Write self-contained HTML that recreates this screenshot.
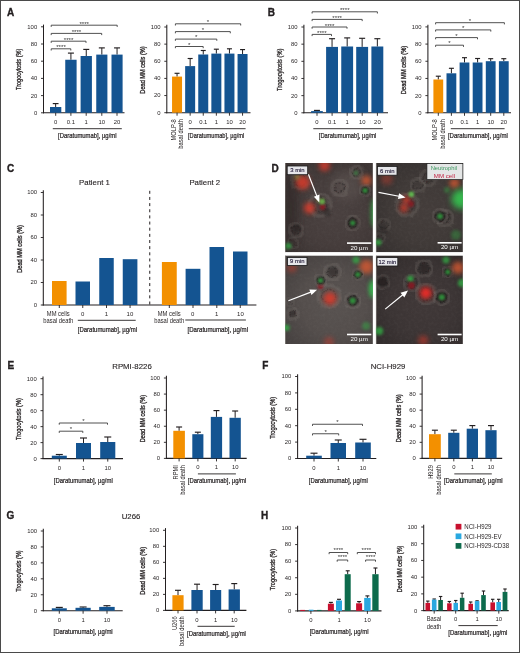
<!DOCTYPE html>
<html><head><meta charset="utf-8"><style>
html,body{margin:0;padding:0;background:#fff;}
svg{display:block;will-change:transform;}
text{font-family:"Liberation Sans", sans-serif;}
</style></head><body>
<svg width="520" height="653" viewBox="0 0 520 653">
<rect x="0" y="0" width="520" height="653" fill="#fff"/>
<defs>
<clipPath id="cp1"><rect x="285.0" y="163.0" width="87.90" height="89.30"/></clipPath>
<clipPath id="cp2"><rect x="375.8" y="163.0" width="87.10" height="89.30"/></clipPath>
<clipPath id="cp3"><rect x="285.0" y="255.4" width="87.90" height="88.60"/></clipPath>
<clipPath id="cp4"><rect x="375.8" y="255.4" width="87.10" height="88.60"/></clipPath>
<filter id="b0_5" x="-100%" y="-100%" width="300%" height="300%"><feGaussianBlur stdDeviation="0.5"/></filter>
<filter id="b0_8" x="-100%" y="-100%" width="300%" height="300%"><feGaussianBlur stdDeviation="0.8"/></filter>
<filter id="b1_0" x="-100%" y="-100%" width="300%" height="300%"><feGaussianBlur stdDeviation="1.0"/></filter>
<filter id="b1_2" x="-100%" y="-100%" width="300%" height="300%"><feGaussianBlur stdDeviation="1.2"/></filter>
<filter id="b1_5" x="-100%" y="-100%" width="300%" height="300%"><feGaussianBlur stdDeviation="1.5"/></filter>
<filter id="b2_0" x="-100%" y="-100%" width="300%" height="300%"><feGaussianBlur stdDeviation="2.0"/></filter>
<filter id="b2_5" x="-100%" y="-100%" width="300%" height="300%"><feGaussianBlur stdDeviation="2.5"/></filter>
<filter id="b3_0" x="-100%" y="-100%" width="300%" height="300%"><feGaussianBlur stdDeviation="3.0"/></filter>
<filter id="b4_0" x="-100%" y="-100%" width="300%" height="300%"><feGaussianBlur stdDeviation="4.0"/></filter>
<filter id="b5_0" x="-100%" y="-100%" width="300%" height="300%"><feGaussianBlur stdDeviation="5.0"/></filter>
<radialGradient id="bgp1" cx="55%" cy="55%" r="65%"><stop offset="0" stop-color="#4a4140"/><stop offset="0.55" stop-color="#463d3c"/><stop offset="1" stop-color="#3c3433"/></radialGradient>
<radialGradient id="bgp2" cx="55%" cy="55%" r="65%"><stop offset="0" stop-color="#443d3b"/><stop offset="0.55" stop-color="#403a38"/><stop offset="1" stop-color="#363130"/></radialGradient>
<radialGradient id="bgp3" cx="55%" cy="55%" r="65%"><stop offset="0" stop-color="#595351"/><stop offset="0.55" stop-color="#544e4c"/><stop offset="1" stop-color="#474241"/></radialGradient>
<radialGradient id="bgp4" cx="55%" cy="55%" r="65%"><stop offset="0" stop-color="#403838"/><stop offset="0.55" stop-color="#3c3535"/><stop offset="1" stop-color="#332d2d"/></radialGradient>
<filter id="noise" x="0" y="0" width="100%" height="100%"><feTurbulence type="fractalNoise" baseFrequency="0.35" numOctaves="2" seed="3"/><feColorMatrix type="matrix" values="0 0 0 0 0.5  0 0 0 0 0.48  0 0 0 0 0.46  0 0 0 1.2 -0.45"/></filter>
<filter id="wob" x="-5%" y="-5%" width="110%" height="110%"><feTurbulence type="fractalNoise" baseFrequency="0.18" numOctaves="2" seed="7" result="t"/><feDisplacementMap in="SourceGraphic" in2="t" scale="4.5" xChannelSelector="R" yChannelSelector="G"/></filter>
</defs>
<g clip-path="url(#cp1)">
<rect x="285.0" y="163.0" width="87.90" height="89.30" fill="url(#bgp1)"/>
<rect x="285.0" y="163.0" width="87.90" height="89.30" filter="url(#noise)" opacity="0.08"/>
<rect x="285.0" y="163.0" width="1.0" height="89.30" fill="#8a8682" opacity="0.7"/>
<ellipse cx="291" cy="210" rx="7" ry="40" fill="#2e2826" opacity="0.6" filter="url(#b4_0)"/>
<circle cx="348" cy="185" r="16" fill="#6a625e" opacity="0.35" filter="url(#b5_0)"/>
<circle cx="300" cy="172" r="10" fill="#6a625e" opacity="0.25" filter="url(#b4_0)"/>
<g filter="url(#wob)"><circle cx="320" cy="205" r="11" fill="none" stroke="#8e8882" stroke-width="2.5" opacity="0.3" filter="url(#b1_0)"/><circle cx="320" cy="205" r="6.60" fill="none" stroke="#1e1a1a" stroke-width="1.2" stroke-dasharray="2,1.5" opacity="0.33" filter="url(#b0_5)"/></g>
<g filter="url(#wob)"><circle cx="339.6" cy="187.8" r="8" fill="none" stroke="#8e8882" stroke-width="2.0" opacity="0.35" filter="url(#b1_0)"/><circle cx="339.6" cy="187.8" r="4.80" fill="none" stroke="#1e1a1a" stroke-width="1.2" stroke-dasharray="2,1.5" opacity="0.39" filter="url(#b0_5)"/></g>
<g filter="url(#wob)"><circle cx="356.2" cy="172.6" r="6.5" fill="none" stroke="#8e8882" stroke-width="2.0" opacity="0.35" filter="url(#b1_0)"/><circle cx="356.2" cy="172.6" r="3.90" fill="none" stroke="#1e1a1a" stroke-width="1.2" stroke-dasharray="2,1.5" opacity="0.39" filter="url(#b0_5)"/></g>
<g filter="url(#wob)"><circle cx="296" cy="230" r="7" fill="none" stroke="#8e8882" stroke-width="2.0" opacity="0.3" filter="url(#b1_0)"/><circle cx="296" cy="230" r="4.20" fill="none" stroke="#1e1a1a" stroke-width="1.2" stroke-dasharray="2,1.5" opacity="0.33" filter="url(#b0_5)"/></g>
<g filter="url(#wob)"><circle cx="293" cy="243" r="5" fill="none" stroke="#8e8882" stroke-width="2.0" opacity="0.25" filter="url(#b1_0)"/><circle cx="293" cy="243" r="3.00" fill="none" stroke="#1e1a1a" stroke-width="1.2" stroke-dasharray="2,1.5" opacity="0.28" filter="url(#b0_5)"/></g>
<g filter="url(#wob)"><circle cx="300" cy="180" r="9" fill="none" stroke="#8e8882" stroke-width="2.0" opacity="0.25" filter="url(#b1_0)"/><circle cx="300" cy="180" r="5.40" fill="none" stroke="#1e1a1a" stroke-width="1.2" stroke-dasharray="2,1.5" opacity="0.28" filter="url(#b0_5)"/></g>
<circle cx="297" cy="228" r="4" fill="#221e1e" opacity="0.45" filter="url(#b1_2)"/>
<circle cx="327" cy="212" r="4" fill="#221e1e" opacity="0.5" filter="url(#b1_2)"/>
<circle cx="302.8" cy="182.5" r="7" fill="#d83a2c" opacity="0.85" filter="url(#b2_5)"/>
<circle cx="297" cy="177" r="3" fill="#a8a040" opacity="0.45" filter="url(#b1_5)"/>
<circle cx="324.5" cy="165.5" r="5.5" fill="#d83a2c" opacity="0.8" filter="url(#b2_5)"/>
<circle cx="366.5" cy="180.5" r="5" fill="#d85a30" opacity="0.8" filter="url(#b2_5)"/>
<circle cx="309.5" cy="208.0" r="5.5" fill="#d83a2c" opacity="0.9" filter="url(#b2_5)"/>
<circle cx="322.5" cy="207.0" r="3" fill="#8a1820" opacity="0.85" filter="url(#b1_0)"/>
<circle cx="322.0" cy="201.5" r="3.0" fill="#6cb848" opacity="0.85" filter="url(#b1_2)"/>
<circle cx="318" cy="200" r="2.5" fill="#a0a050" opacity="0.35" filter="url(#b1_2)"/>
<g filter="url(#wob)"><circle cx="352.7" cy="222.9" r="6.8999999999999995" fill="none" stroke="#8e8882" stroke-width="1.8" opacity="0.45" filter="url(#b1_0)"/><circle cx="352.7" cy="222.9" r="4.14" fill="none" stroke="#1e1a1a" stroke-width="1.2" stroke-dasharray="2,1.5" opacity="0.50" filter="url(#b0_5)"/></g>
<circle cx="352.7" cy="222.9" r="5.699999999999999" fill="#221e1e" opacity="0.6" filter="url(#b0_8)"/>
<circle cx="352.7" cy="222.9" r="2.5" fill="#2f9a3c" opacity="0.85" filter="url(#b1_0)"/>
<g filter="url(#wob)"><circle cx="365.1" cy="190.5" r="5.175" fill="none" stroke="#8e8882" stroke-width="1.8" opacity="0.45" filter="url(#b1_0)"/><circle cx="365.1" cy="190.5" r="3.10" fill="none" stroke="#1e1a1a" stroke-width="1.2" stroke-dasharray="2,1.5" opacity="0.50" filter="url(#b0_5)"/></g>
<circle cx="365.1" cy="190.5" r="4.2749999999999995" fill="#221e1e" opacity="0.6" filter="url(#b0_8)"/>
<circle cx="365.1" cy="190.5" r="2.5" fill="#2f9a3c" opacity="0.85" filter="url(#b1_0)"/>
<ellipse cx="373.5" cy="213" rx="2.5" ry="14" fill="#30c048" opacity="0.7" filter="url(#b2_0)"/>
<circle cx="288.4" cy="246" r="3" fill="#30b445" opacity="0.75" filter="url(#b1_5)"/>
<circle cx="356" cy="173" r="2.0" fill="#30b445" opacity="0.6" filter="url(#b1_5)"/>
</g>
<line x1="308.4" y1="174.3" x2="316.88" y2="196.15" stroke="#fff" stroke-width="1.2"/>
<path d="M319.30,202.40 L313.90,196.77 L319.49,194.60 z" fill="#fff"/>
<rect x="287.2" y="166.0" width="20.50" height="8.70" fill="#e6e6ea" stroke="#1a1a1a" stroke-width="0.8"/>
<text x="297.45" y="172.40" font-size="5.9" text-anchor="middle" fill="#2b2540" stroke="#2b2540" stroke-width="0.15" font-family='"Liberation Sans", sans-serif'>3 min</text>
<rect x="347.0" y="242.29999999999998" width="24.30" height="1.6" fill="#fff"/>
<text x="359.15" y="249.70" font-size="6.2" text-anchor="middle" fill="#fff" font-family='"Liberation Sans", sans-serif'>20 &#181;m</text>
<g clip-path="url(#cp2)">
<rect x="375.8" y="163.0" width="87.10" height="89.30" fill="url(#bgp2)"/>
<rect x="375.8" y="163.0" width="87.10" height="89.30" filter="url(#noise)" opacity="0.08"/>
<rect x="375.8" y="163.0" width="1.0" height="89.30" fill="#8a8682" opacity="0.7"/>
<g filter="url(#wob)"><circle cx="407" cy="205" r="11" fill="none" stroke="#8e8882" stroke-width="2.5" opacity="0.3" filter="url(#b1_0)"/><circle cx="407" cy="205" r="6.60" fill="none" stroke="#1e1a1a" stroke-width="1.2" stroke-dasharray="2,1.5" opacity="0.33" filter="url(#b0_5)"/></g>
<g filter="url(#wob)"><circle cx="418" cy="185" r="7" fill="none" stroke="#8e8882" stroke-width="2.0" opacity="0.3" filter="url(#b1_0)"/><circle cx="418" cy="185" r="4.20" fill="none" stroke="#1e1a1a" stroke-width="1.2" stroke-dasharray="2,1.5" opacity="0.33" filter="url(#b0_5)"/></g>
<g filter="url(#wob)"><circle cx="428" cy="178" r="8" fill="none" stroke="#8e8882" stroke-width="2.0" opacity="0.3" filter="url(#b1_0)"/><circle cx="428" cy="178" r="4.80" fill="none" stroke="#1e1a1a" stroke-width="1.2" stroke-dasharray="2,1.5" opacity="0.33" filter="url(#b0_5)"/></g>
<g filter="url(#wob)"><circle cx="384" cy="225" r="6" fill="none" stroke="#8e8882" stroke-width="2.0" opacity="0.25" filter="url(#b1_0)"/><circle cx="384" cy="225" r="3.60" fill="none" stroke="#1e1a1a" stroke-width="1.2" stroke-dasharray="2,1.5" opacity="0.28" filter="url(#b0_5)"/></g>
<g filter="url(#wob)"><circle cx="380" cy="238" r="5" fill="none" stroke="#8e8882" stroke-width="2.0" opacity="0.25" filter="url(#b1_0)"/><circle cx="380" cy="238" r="3.00" fill="none" stroke="#1e1a1a" stroke-width="1.2" stroke-dasharray="2,1.5" opacity="0.28" filter="url(#b0_5)"/></g>
<g filter="url(#wob)"><circle cx="445" cy="218" r="8" fill="none" stroke="#8e8882" stroke-width="2.0" opacity="0.35" filter="url(#b1_0)"/><circle cx="445" cy="218" r="4.80" fill="none" stroke="#1e1a1a" stroke-width="1.2" stroke-dasharray="2,1.5" opacity="0.39" filter="url(#b0_5)"/></g>
<circle cx="383" cy="230" r="4" fill="#221e1e" opacity="0.4" filter="url(#b1_2)"/>
<circle cx="386.8" cy="179" r="6" fill="#c04030" opacity="0.45" filter="url(#b2_5)"/>
<circle cx="406.5" cy="200" r="4" fill="#d83a2c" opacity="0.85" filter="url(#b2_5)"/>
<circle cx="404" cy="208" r="4" fill="#d83a2c" opacity="0.85" filter="url(#b2_5)"/>
<circle cx="411" cy="204" r="3" fill="#8a1820" opacity="0.8" filter="url(#b1_0)"/>
<circle cx="454.5" cy="183.3" r="5" fill="#d85a30" opacity="0.8" filter="url(#b2_5)"/>
<circle cx="411.4" cy="194.3" r="2.8" fill="#60c050" opacity="0.9" filter="url(#b1_2)"/>
<circle cx="461.5" cy="199" r="10" fill="#35c450" opacity="0.9" filter="url(#b3_0)"/>
<g filter="url(#wob)"><circle cx="440.1" cy="216.3" r="6.8999999999999995" fill="none" stroke="#8e8882" stroke-width="1.8" opacity="0.45" filter="url(#b1_0)"/><circle cx="440.1" cy="216.3" r="4.14" fill="none" stroke="#1e1a1a" stroke-width="1.2" stroke-dasharray="2,1.5" opacity="0.50" filter="url(#b0_5)"/></g>
<circle cx="440.1" cy="216.3" r="5.699999999999999" fill="#221e1e" opacity="0.6" filter="url(#b0_8)"/>
<circle cx="440.1" cy="216.3" r="2.8" fill="#2f9a3c" opacity="0.85" filter="url(#b1_0)"/>
<circle cx="378.4" cy="242.5" r="3" fill="#30b445" opacity="0.8" filter="url(#b1_5)"/>
<circle cx="456" cy="235" r="5" fill="#30b445" opacity="0.35" filter="url(#b1_5)"/>
<circle cx="447" cy="190" r="3" fill="#30b445" opacity="0.4" filter="url(#b1_5)"/>
</g>
<line x1="378.5" y1="192.3" x2="399.02" y2="196.24" stroke="#fff" stroke-width="1.2"/>
<path d="M405.60,197.50 L397.96,199.09 L399.09,193.20 z" fill="#fff"/>
<rect x="377.5" y="166.4" width="19.50" height="8.80" fill="#e6e6ea" stroke="#1a1a1a" stroke-width="0.8"/>
<text x="387.25" y="172.90" font-size="5.9" text-anchor="middle" fill="#2b2540" stroke="#2b2540" stroke-width="0.15" font-family='"Liberation Sans", sans-serif'>6 min</text>
<rect x="426.9" y="163.4" width="36.0" height="16.2" fill="#e4e6e6" stroke="#1a1a1a" stroke-width="0.7"/>
<text x="443.9" y="170.2" font-size="6.2" text-anchor="middle" fill="#3f9a62" font-family='"Liberation Sans", sans-serif' textLength="26.5" lengthAdjust="spacingAndGlyphs">Neutrophil</text>
<text x="444.4" y="178.0" font-size="6.2" text-anchor="middle" fill="#c01c3c" font-family='"Liberation Sans", sans-serif' textLength="21.2" lengthAdjust="spacingAndGlyphs">MM cell</text>
<rect x="437.6" y="242.0" width="24.00" height="1.6" fill="#fff"/>
<text x="449.60" y="249.40" font-size="6.2" text-anchor="middle" fill="#fff" font-family='"Liberation Sans", sans-serif'>20 &#181;m</text>
<g clip-path="url(#cp3)">
<rect x="285.0" y="255.4" width="87.90" height="88.60" fill="url(#bgp3)"/>
<rect x="285.0" y="255.4" width="87.90" height="88.60" filter="url(#noise)" opacity="0.08"/>
<rect x="285.0" y="255.4" width="1.0" height="88.60" fill="#8a8682" opacity="0.7"/>
<g filter="url(#wob)"><circle cx="332.4" cy="272" r="8" fill="none" stroke="#8e8882" stroke-width="2.0" opacity="0.35" filter="url(#b1_0)"/><circle cx="332.4" cy="272" r="4.80" fill="none" stroke="#1e1a1a" stroke-width="1.2" stroke-dasharray="2,1.5" opacity="0.39" filter="url(#b0_5)"/></g>
<g filter="url(#wob)"><circle cx="329" cy="296" r="11" fill="none" stroke="#8e8882" stroke-width="2.5" opacity="0.3" filter="url(#b1_0)"/><circle cx="329" cy="296" r="6.60" fill="none" stroke="#1e1a1a" stroke-width="1.2" stroke-dasharray="2,1.5" opacity="0.33" filter="url(#b0_5)"/></g>
<g filter="url(#wob)"><circle cx="293" cy="314" r="5.5" fill="none" stroke="#8e8882" stroke-width="2.0" opacity="0.35" filter="url(#b1_0)"/><circle cx="293" cy="314" r="3.30" fill="none" stroke="#1e1a1a" stroke-width="1.2" stroke-dasharray="2,1.5" opacity="0.39" filter="url(#b0_5)"/></g>
<g filter="url(#wob)"><circle cx="290" cy="302" r="4" fill="none" stroke="#8e8882" stroke-width="2.0" opacity="0.2" filter="url(#b1_0)"/><circle cx="290" cy="302" r="2.40" fill="none" stroke="#1e1a1a" stroke-width="1.2" stroke-dasharray="2,1.5" opacity="0.22" filter="url(#b0_5)"/></g>
<circle cx="333" cy="272" r="5" fill="#221e1e" opacity="0.45" filter="url(#b1_2)"/>
<circle cx="292.5" cy="313.5" r="3" fill="#221e1e" opacity="0.5" filter="url(#b1_2)"/>
<circle cx="291.8" cy="267.7" r="5" fill="#d83a2c" opacity="0.45" filter="url(#b2_5)"/>
<circle cx="330" cy="298.5" r="6.5" fill="#d83a2c" opacity="0.9" filter="url(#b2_5)"/>
<circle cx="366.5" cy="266.8" r="7" fill="#d85a30" opacity="0.8" filter="url(#b2_5)"/>
<circle cx="320.5" cy="286.3" r="3" fill="#8a1820" opacity="0.85" filter="url(#b1_0)"/>
<circle cx="329" cy="342" r="5" fill="#d83a2c" opacity="0.45" filter="url(#b2_5)"/>
<g filter="url(#wob)"><circle cx="320.5" cy="280.4" r="5.52" fill="none" stroke="#8e8882" stroke-width="1.8" opacity="0.45" filter="url(#b1_0)"/><circle cx="320.5" cy="280.4" r="3.31" fill="none" stroke="#1e1a1a" stroke-width="1.2" stroke-dasharray="2,1.5" opacity="0.50" filter="url(#b0_5)"/></g>
<circle cx="320.5" cy="280.4" r="4.56" fill="#221e1e" opacity="0.6" filter="url(#b0_8)"/>
<circle cx="320.5" cy="280.4" r="2.5" fill="#2f9a3c" opacity="0.85" filter="url(#b1_0)"/>
<g filter="url(#wob)"><circle cx="352.7" cy="300.7" r="7.13" fill="none" stroke="#8e8882" stroke-width="1.8" opacity="0.45" filter="url(#b1_0)"/><circle cx="352.7" cy="300.7" r="4.28" fill="none" stroke="#1e1a1a" stroke-width="1.2" stroke-dasharray="2,1.5" opacity="0.50" filter="url(#b0_5)"/></g>
<circle cx="352.7" cy="300.7" r="5.89" fill="#221e1e" opacity="0.6" filter="url(#b0_8)"/>
<circle cx="352.7" cy="300.7" r="3.0" fill="#2f9a3c" opacity="0.85" filter="url(#b1_0)"/>
<circle cx="356" cy="260" r="3.5" fill="#30b445" opacity="0.7" filter="url(#b1_5)"/>
<g filter="url(#wob)"><circle cx="357.8" cy="274.5" r="5.175" fill="none" stroke="#8e8882" stroke-width="1.8" opacity="0.45" filter="url(#b1_0)"/><circle cx="357.8" cy="274.5" r="3.10" fill="none" stroke="#1e1a1a" stroke-width="1.2" stroke-dasharray="2,1.5" opacity="0.50" filter="url(#b0_5)"/></g>
<circle cx="357.8" cy="274.5" r="4.2749999999999995" fill="#221e1e" opacity="0.6" filter="url(#b0_8)"/>
<circle cx="357.8" cy="274.5" r="2.5" fill="#2f9a3c" opacity="0.85" filter="url(#b1_0)"/>
<ellipse cx="372.5" cy="289" rx="3.5" ry="9" fill="#35c450" opacity="0.9" filter="url(#b2_0)"/>
<circle cx="286.7" cy="327.8" r="3" fill="#30b445" opacity="0.8" filter="url(#b1_5)"/>
<circle cx="366.2" cy="326" r="4" fill="#30b445" opacity="0.45" filter="url(#b1_5)"/>
</g>
<line x1="288.4" y1="300.7" x2="310.84" y2="292.10" stroke="#fff" stroke-width="1.2"/>
<path d="M317.10,289.70 L311.45,295.08 L309.30,289.48 z" fill="#fff"/>
<rect x="287.5" y="257.5" width="19.50" height="8.00" fill="#e6e6ea" stroke="#1a1a1a" stroke-width="0.8"/>
<text x="297.25" y="263.20" font-size="5.9" text-anchor="middle" fill="#2b2540" stroke="#2b2540" stroke-width="0.15" font-family='"Liberation Sans", sans-serif'>9 min</text>
<rect x="347.0" y="333.7" width="24.30" height="1.6" fill="#fff"/>
<text x="359.15" y="341.10" font-size="6.2" text-anchor="middle" fill="#fff" font-family='"Liberation Sans", sans-serif'>20 &#181;m</text>
<g clip-path="url(#cp4)">
<rect x="375.8" y="255.4" width="87.10" height="88.60" fill="url(#bgp4)"/>
<rect x="375.8" y="255.4" width="87.10" height="88.60" filter="url(#noise)" opacity="0.08"/>
<rect x="375.8" y="255.4" width="1.0" height="88.60" fill="#8a8682" opacity="0.7"/>
<g filter="url(#wob)"><circle cx="382.6" cy="282" r="6.5" fill="none" stroke="#8e8882" stroke-width="2.0" opacity="0.35" filter="url(#b1_0)"/><circle cx="382.6" cy="282" r="3.90" fill="none" stroke="#1e1a1a" stroke-width="1.2" stroke-dasharray="2,1.5" opacity="0.39" filter="url(#b0_5)"/></g>
<circle cx="382.6" cy="282" r="5.5" fill="#221e1e" opacity="0.65" filter="url(#b1_0)"/>
<g filter="url(#wob)"><circle cx="424" cy="268.5" r="8" fill="none" stroke="#8e8882" stroke-width="2.0" opacity="0.35" filter="url(#b1_0)"/><circle cx="424" cy="268.5" r="4.80" fill="none" stroke="#1e1a1a" stroke-width="1.2" stroke-dasharray="2,1.5" opacity="0.39" filter="url(#b0_5)"/></g>
<circle cx="424" cy="268.5" r="5" fill="#221e1e" opacity="0.45" filter="url(#b1_2)"/>
<g filter="url(#wob)"><circle cx="412" cy="283" r="8" fill="none" stroke="#8e8882" stroke-width="2.0" opacity="0.3" filter="url(#b1_0)"/><circle cx="412" cy="283" r="4.80" fill="none" stroke="#1e1a1a" stroke-width="1.2" stroke-dasharray="2,1.5" opacity="0.33" filter="url(#b0_5)"/></g>
<g filter="url(#wob)"><circle cx="426" cy="294" r="10" fill="none" stroke="#8e8882" stroke-width="2.5" opacity="0.3" filter="url(#b1_0)"/><circle cx="426" cy="294" r="6.00" fill="none" stroke="#1e1a1a" stroke-width="1.2" stroke-dasharray="2,1.5" opacity="0.33" filter="url(#b0_5)"/></g>
<circle cx="410.5" cy="278.7" r="3" fill="#30b445" opacity="0.85" filter="url(#b1_5)"/>
<circle cx="411.4" cy="285.5" r="3.5" fill="#8a1820" opacity="0.85" filter="url(#b1_0)"/>
<circle cx="425.8" cy="293" r="6.0" fill="#ee2a28" opacity="0.95" filter="url(#b2_5)"/>
<g filter="url(#wob)"><circle cx="441.8" cy="297.3" r="7.13" fill="none" stroke="#8e8882" stroke-width="1.8" opacity="0.45" filter="url(#b1_0)"/><circle cx="441.8" cy="297.3" r="4.28" fill="none" stroke="#1e1a1a" stroke-width="1.2" stroke-dasharray="2,1.5" opacity="0.50" filter="url(#b0_5)"/></g>
<circle cx="441.8" cy="297.3" r="5.89" fill="#221e1e" opacity="0.6" filter="url(#b0_8)"/>
<circle cx="441.8" cy="297.3" r="3.0" fill="#2f9a3c" opacity="0.85" filter="url(#b1_0)"/>
<circle cx="446" cy="260" r="3.5" fill="#30b445" opacity="0.7" filter="url(#b1_5)"/>
<g filter="url(#wob)"><circle cx="447.8" cy="272" r="5.175" fill="none" stroke="#8e8882" stroke-width="1.8" opacity="0.45" filter="url(#b1_0)"/><circle cx="447.8" cy="272" r="3.10" fill="none" stroke="#1e1a1a" stroke-width="1.2" stroke-dasharray="2,1.5" opacity="0.50" filter="url(#b0_5)"/></g>
<circle cx="447.8" cy="272" r="4.2749999999999995" fill="#221e1e" opacity="0.6" filter="url(#b0_8)"/>
<circle cx="447.8" cy="272" r="2.5" fill="#2f9a3c" opacity="0.85" filter="url(#b1_0)"/>
<circle cx="458" cy="267.7" r="6" fill="#d85a30" opacity="0.8" filter="url(#b2_5)"/>
<circle cx="462" cy="283" r="4" fill="#30b445" opacity="0.75" filter="url(#b1_5)"/>
<circle cx="379.2" cy="331.1" r="4" fill="#30b445" opacity="0.75" filter="url(#b1_5)"/>
<circle cx="423.2" cy="340.5" r="5" fill="#d83a2c" opacity="0.55" filter="url(#b2_5)"/>
</g>
<line x1="385.2" y1="309.1" x2="402.81" y2="294.74" stroke="#fff" stroke-width="1.2"/>
<path d="M408.00,290.50 L404.32,297.38 L400.52,292.73 z" fill="#fff"/>
<rect x="377.0" y="257.5" width="20.80" height="8.50" fill="#e6e6ea" stroke="#1a1a1a" stroke-width="0.8"/>
<text x="387.40" y="263.70" font-size="5.9" text-anchor="middle" fill="#2b2540" stroke="#2b2540" stroke-width="0.15" font-family='"Liberation Sans", sans-serif'>12 min</text>
<rect x="437.6" y="333.7" width="24.00" height="1.6" fill="#fff"/>
<text x="449.60" y="341.10" font-size="6.2" text-anchor="middle" fill="#fff" font-family='"Liberation Sans", sans-serif'>20 &#181;m</text>
<text x="271.4" y="171.9" font-size="10" font-weight="bold" fill="#231f20" stroke="#231f20" stroke-width="0.35" font-family='"Liberation Sans", sans-serif'>D</text>
<text x="7.00" y="15.90" font-size="10" text-anchor="start" fill="#231f20" font-weight="bold" stroke="#231f20" stroke-width="0.35">A</text>
<line x1="43.50" y1="24.60" x2="43.50" y2="113.30" stroke="#231f20" stroke-width="1.05"/>
<line x1="43.00" y1="112.80" x2="124.50" y2="112.80" stroke="#231f20" stroke-width="1.1"/>
<line x1="41.00" y1="112.80" x2="43.50" y2="112.80" stroke="#231f20" stroke-width="0.9"/>
<text x="37.20" y="114.70" font-size="5.9" text-anchor="end" fill="#231f20" font-weight="normal">0</text>
<line x1="41.00" y1="95.60" x2="43.50" y2="95.60" stroke="#231f20" stroke-width="0.9"/>
<text x="37.20" y="97.50" font-size="5.9" text-anchor="end" fill="#231f20" font-weight="normal">20</text>
<line x1="41.00" y1="78.40" x2="43.50" y2="78.40" stroke="#231f20" stroke-width="0.9"/>
<text x="37.20" y="80.30" font-size="5.9" text-anchor="end" fill="#231f20" font-weight="normal">40</text>
<line x1="41.00" y1="61.20" x2="43.50" y2="61.20" stroke="#231f20" stroke-width="0.9"/>
<text x="37.20" y="63.10" font-size="5.9" text-anchor="end" fill="#231f20" font-weight="normal">60</text>
<line x1="41.00" y1="44.00" x2="43.50" y2="44.00" stroke="#231f20" stroke-width="0.9"/>
<text x="37.20" y="45.90" font-size="5.9" text-anchor="end" fill="#231f20" font-weight="normal">80</text>
<line x1="41.00" y1="26.80" x2="43.50" y2="26.80" stroke="#231f20" stroke-width="0.9"/>
<text x="37.20" y="28.70" font-size="5.9" text-anchor="end" fill="#231f20" font-weight="normal">100</text>
<line x1="55.65" y1="103.60" x2="55.65" y2="107.00" stroke="#231f20" stroke-width="1.0"/>
<line x1="52.75" y1="103.60" x2="58.55" y2="103.60" stroke="#231f20" stroke-width="1.15"/>
<rect x="50.00" y="107.00" width="11.30" height="5.80" fill="#145491"/>
<line x1="70.92" y1="53.10" x2="70.92" y2="59.75" stroke="#231f20" stroke-width="1.0"/>
<line x1="67.92" y1="53.10" x2="73.92" y2="53.10" stroke="#231f20" stroke-width="1.15"/>
<rect x="65.25" y="59.75" width="11.35" height="53.05" fill="#145491"/>
<line x1="86.25" y1="49.40" x2="86.25" y2="56.00" stroke="#231f20" stroke-width="1.0"/>
<line x1="83.25" y1="49.40" x2="89.25" y2="49.40" stroke="#231f20" stroke-width="1.15"/>
<rect x="80.60" y="56.00" width="11.30" height="56.80" fill="#145491"/>
<line x1="101.83" y1="47.90" x2="101.83" y2="54.60" stroke="#231f20" stroke-width="1.0"/>
<line x1="98.83" y1="47.90" x2="104.83" y2="47.90" stroke="#231f20" stroke-width="1.15"/>
<rect x="96.25" y="54.60" width="11.15" height="58.20" fill="#145491"/>
<line x1="117.05" y1="47.90" x2="117.05" y2="54.60" stroke="#231f20" stroke-width="1.0"/>
<line x1="114.05" y1="47.90" x2="120.05" y2="47.90" stroke="#231f20" stroke-width="1.15"/>
<rect x="111.50" y="54.60" width="11.10" height="58.20" fill="#145491"/>
<line x1="55.70" y1="112.80" x2="55.70" y2="115.80" stroke="#231f20" stroke-width="0.9"/>
<text x="55.70" y="124.40" font-size="5.9" text-anchor="middle" fill="#231f20" font-weight="normal">0</text>
<line x1="70.90" y1="112.80" x2="70.90" y2="115.80" stroke="#231f20" stroke-width="0.9"/>
<text x="70.90" y="124.40" font-size="5.9" text-anchor="middle" fill="#231f20" font-weight="normal">0.1</text>
<line x1="86.20" y1="112.80" x2="86.20" y2="115.80" stroke="#231f20" stroke-width="0.9"/>
<text x="86.20" y="124.40" font-size="5.9" text-anchor="middle" fill="#231f20" font-weight="normal">1</text>
<line x1="101.80" y1="112.80" x2="101.80" y2="115.80" stroke="#231f20" stroke-width="0.9"/>
<text x="101.80" y="124.40" font-size="5.9" text-anchor="middle" fill="#231f20" font-weight="normal">10</text>
<line x1="117.00" y1="112.80" x2="117.00" y2="115.80" stroke="#231f20" stroke-width="0.9"/>
<text x="117.00" y="124.40" font-size="5.9" text-anchor="middle" fill="#231f20" font-weight="normal">20</text>
<line x1="52.80" y1="128.70" x2="121.80" y2="128.70" stroke="#231f20" stroke-width="0.9"/>
<text x="87.30" y="138.30" font-size="7.0" text-anchor="middle" fill="#231f20" font-weight="normal" textLength="58.40" lengthAdjust="spacingAndGlyphs" stroke="#231f20" stroke-width="0.22">[Daratumumab], &#181;g/ml</text>
<text transform="translate(21.20,69.40) rotate(-90)" font-size="7.0" text-anchor="middle" fill="#231f20" font-weight="normal" textLength="41.30" lengthAdjust="spacingAndGlyphs" stroke="#231f20" stroke-width="0.3">Trogocytosis (%)</text>
<path d="M51.20,26.90 L51.20,25.20 L117.20,25.20 L117.20,26.90" fill="none" stroke="#3d3d3d" stroke-width="0.9"/>
<text x="84.20" y="25.70" font-size="6.2" text-anchor="middle" fill="#333" font-weight="normal">****</text>
<path d="M51.20,35.10 L51.20,33.40 L101.70,33.40 L101.70,35.10" fill="none" stroke="#3d3d3d" stroke-width="0.9"/>
<text x="76.45" y="33.90" font-size="6.2" text-anchor="middle" fill="#333" font-weight="normal">****</text>
<path d="M51.20,42.90 L51.20,41.20 L86.00,41.20 L86.00,42.90" fill="none" stroke="#3d3d3d" stroke-width="0.9"/>
<text x="68.60" y="41.70" font-size="6.2" text-anchor="middle" fill="#333" font-weight="normal">****</text>
<path d="M51.20,50.50 L51.20,48.80 L70.80,48.80 L70.80,50.50" fill="none" stroke="#3d3d3d" stroke-width="0.9"/>
<text x="61.00" y="49.30" font-size="6.2" text-anchor="middle" fill="#333" font-weight="normal">****</text>
<line x1="166.80" y1="24.80" x2="166.80" y2="113.20" stroke="#231f20" stroke-width="1.05"/>
<line x1="166.30" y1="112.70" x2="250.50" y2="112.70" stroke="#231f20" stroke-width="1.1"/>
<line x1="164.30" y1="112.70" x2="166.80" y2="112.70" stroke="#231f20" stroke-width="0.9"/>
<text x="160.50" y="114.60" font-size="5.9" text-anchor="end" fill="#231f20" font-weight="normal">0</text>
<line x1="164.30" y1="95.56" x2="166.80" y2="95.56" stroke="#231f20" stroke-width="0.9"/>
<text x="160.50" y="97.46" font-size="5.9" text-anchor="end" fill="#231f20" font-weight="normal">20</text>
<line x1="164.30" y1="78.42" x2="166.80" y2="78.42" stroke="#231f20" stroke-width="0.9"/>
<text x="160.50" y="80.32" font-size="5.9" text-anchor="end" fill="#231f20" font-weight="normal">40</text>
<line x1="164.30" y1="61.28" x2="166.80" y2="61.28" stroke="#231f20" stroke-width="0.9"/>
<text x="160.50" y="63.18" font-size="5.9" text-anchor="end" fill="#231f20" font-weight="normal">60</text>
<line x1="164.30" y1="44.14" x2="166.80" y2="44.14" stroke="#231f20" stroke-width="0.9"/>
<text x="160.50" y="46.04" font-size="5.9" text-anchor="end" fill="#231f20" font-weight="normal">80</text>
<line x1="164.30" y1="27.00" x2="166.80" y2="27.00" stroke="#231f20" stroke-width="0.9"/>
<text x="160.50" y="28.90" font-size="5.9" text-anchor="end" fill="#231f20" font-weight="normal">100</text>
<line x1="177.05" y1="73.30" x2="177.05" y2="76.60" stroke="#231f20" stroke-width="1.0"/>
<line x1="174.55" y1="73.30" x2="179.55" y2="73.30" stroke="#231f20" stroke-width="1.15"/>
<rect x="172.05" y="76.60" width="10.00" height="36.10" fill="#f39000"/>
<line x1="190.15" y1="58.50" x2="190.15" y2="66.10" stroke="#231f20" stroke-width="1.0"/>
<line x1="187.65" y1="58.50" x2="192.65" y2="58.50" stroke="#231f20" stroke-width="1.15"/>
<rect x="185.15" y="66.10" width="10.00" height="46.60" fill="#145491"/>
<line x1="203.25" y1="50.50" x2="203.25" y2="54.50" stroke="#231f20" stroke-width="1.0"/>
<line x1="200.75" y1="50.50" x2="205.75" y2="50.50" stroke="#231f20" stroke-width="1.15"/>
<rect x="198.25" y="54.50" width="10.00" height="58.20" fill="#145491"/>
<line x1="216.35" y1="49.20" x2="216.35" y2="53.60" stroke="#231f20" stroke-width="1.0"/>
<line x1="213.85" y1="49.20" x2="218.85" y2="49.20" stroke="#231f20" stroke-width="1.15"/>
<rect x="211.35" y="53.60" width="10.00" height="59.10" fill="#145491"/>
<line x1="229.45" y1="48.80" x2="229.45" y2="53.60" stroke="#231f20" stroke-width="1.0"/>
<line x1="226.95" y1="48.80" x2="231.95" y2="48.80" stroke="#231f20" stroke-width="1.15"/>
<rect x="224.45" y="53.60" width="10.00" height="59.10" fill="#145491"/>
<line x1="242.55" y1="49.60" x2="242.55" y2="54.00" stroke="#231f20" stroke-width="1.0"/>
<line x1="240.05" y1="49.60" x2="245.05" y2="49.60" stroke="#231f20" stroke-width="1.15"/>
<rect x="237.55" y="54.00" width="10.00" height="58.70" fill="#145491"/>
<line x1="177.05" y1="112.70" x2="177.05" y2="115.70" stroke="#231f20" stroke-width="0.9"/>
<line x1="190.15" y1="112.70" x2="190.15" y2="115.70" stroke="#231f20" stroke-width="0.9"/>
<text x="190.15" y="124.40" font-size="5.9" text-anchor="middle" fill="#231f20" font-weight="normal">0</text>
<line x1="203.25" y1="112.70" x2="203.25" y2="115.70" stroke="#231f20" stroke-width="0.9"/>
<text x="203.25" y="124.40" font-size="5.9" text-anchor="middle" fill="#231f20" font-weight="normal">0.1</text>
<line x1="216.35" y1="112.70" x2="216.35" y2="115.70" stroke="#231f20" stroke-width="0.9"/>
<text x="216.35" y="124.40" font-size="5.9" text-anchor="middle" fill="#231f20" font-weight="normal">1</text>
<line x1="229.45" y1="112.70" x2="229.45" y2="115.70" stroke="#231f20" stroke-width="0.9"/>
<text x="229.45" y="124.40" font-size="5.9" text-anchor="middle" fill="#231f20" font-weight="normal">10</text>
<line x1="242.55" y1="112.70" x2="242.55" y2="115.70" stroke="#231f20" stroke-width="0.9"/>
<text x="242.55" y="124.40" font-size="5.9" text-anchor="middle" fill="#231f20" font-weight="normal">20</text>
<line x1="188.80" y1="128.70" x2="245.60" y2="128.70" stroke="#231f20" stroke-width="0.9"/>
<text x="216.10" y="137.90" font-size="7.0" text-anchor="middle" fill="#231f20" font-weight="normal" textLength="56.20" lengthAdjust="spacingAndGlyphs" stroke="#231f20" stroke-width="0.22">[Daratumumab], &#181;g/ml</text>
<text transform="translate(176.00,119.20) rotate(-90)" font-size="6.8" text-anchor="end" fill="#231f20" font-weight="normal" textLength="21.27" lengthAdjust="spacingAndGlyphs">MOLP-8</text>
<text transform="translate(183.20,119.20) rotate(-90)" font-size="6.8" text-anchor="end" fill="#231f20" font-weight="normal" textLength="29.53" lengthAdjust="spacingAndGlyphs">basal death</text>
<text transform="translate(145.00,70.00) rotate(-90)" font-size="7.0" text-anchor="middle" fill="#231f20" font-weight="normal" textLength="47.30" lengthAdjust="spacingAndGlyphs" stroke="#231f20" stroke-width="0.3">Dead MM cells (%)</text>
<path d="M175.40,25.50 L175.40,23.80 L240.70,23.80 L240.70,25.50" fill="none" stroke="#3d3d3d" stroke-width="0.9"/>
<text x="208.05" y="24.00" font-size="6.2" text-anchor="middle" fill="#333" font-weight="normal">*</text>
<path d="M175.40,33.30 L175.40,31.60 L230.30,31.60 L230.30,33.30" fill="none" stroke="#3d3d3d" stroke-width="0.9"/>
<text x="202.85" y="31.80" font-size="6.2" text-anchor="middle" fill="#333" font-weight="normal">*</text>
<path d="M175.40,40.80 L175.40,39.10 L216.80,39.10 L216.80,40.80" fill="none" stroke="#3d3d3d" stroke-width="0.9"/>
<text x="196.10" y="39.30" font-size="6.2" text-anchor="middle" fill="#333" font-weight="normal">*</text>
<path d="M175.40,48.20 L175.40,46.50 L203.20,46.50 L203.20,48.20" fill="none" stroke="#3d3d3d" stroke-width="0.9"/>
<text x="189.30" y="46.70" font-size="6.2" text-anchor="middle" fill="#333" font-weight="normal">*</text>
<text x="267.80" y="15.90" font-size="10" text-anchor="start" fill="#231f20" font-weight="bold" stroke="#231f20" stroke-width="0.35">B</text>
<line x1="303.90" y1="24.80" x2="303.90" y2="113.30" stroke="#231f20" stroke-width="1.05"/>
<line x1="303.40" y1="112.80" x2="388.00" y2="112.80" stroke="#231f20" stroke-width="1.1"/>
<line x1="301.40" y1="112.80" x2="303.90" y2="112.80" stroke="#231f20" stroke-width="0.9"/>
<text x="297.60" y="114.70" font-size="5.9" text-anchor="end" fill="#231f20" font-weight="normal">0</text>
<line x1="301.40" y1="95.64" x2="303.90" y2="95.64" stroke="#231f20" stroke-width="0.9"/>
<text x="297.60" y="97.54" font-size="5.9" text-anchor="end" fill="#231f20" font-weight="normal">20</text>
<line x1="301.40" y1="78.48" x2="303.90" y2="78.48" stroke="#231f20" stroke-width="0.9"/>
<text x="297.60" y="80.38" font-size="5.9" text-anchor="end" fill="#231f20" font-weight="normal">40</text>
<line x1="301.40" y1="61.32" x2="303.90" y2="61.32" stroke="#231f20" stroke-width="0.9"/>
<text x="297.60" y="63.22" font-size="5.9" text-anchor="end" fill="#231f20" font-weight="normal">60</text>
<line x1="301.40" y1="44.16" x2="303.90" y2="44.16" stroke="#231f20" stroke-width="0.9"/>
<text x="297.60" y="46.06" font-size="5.9" text-anchor="end" fill="#231f20" font-weight="normal">80</text>
<line x1="301.40" y1="27.00" x2="303.90" y2="27.00" stroke="#231f20" stroke-width="0.9"/>
<text x="297.60" y="28.90" font-size="5.9" text-anchor="end" fill="#231f20" font-weight="normal">100</text>
<line x1="316.95" y1="110.40" x2="316.95" y2="111.10" stroke="#231f20" stroke-width="1.0"/>
<line x1="313.95" y1="110.40" x2="319.95" y2="110.40" stroke="#231f20" stroke-width="1.15"/>
<rect x="311.10" y="111.10" width="11.70" height="1.70" fill="#145491"/>
<line x1="332.05" y1="38.70" x2="332.05" y2="46.90" stroke="#231f20" stroke-width="1.0"/>
<line x1="329.05" y1="38.70" x2="335.05" y2="38.70" stroke="#231f20" stroke-width="1.15"/>
<rect x="326.10" y="46.90" width="11.90" height="65.90" fill="#145491"/>
<line x1="347.18" y1="37.90" x2="347.18" y2="46.50" stroke="#231f20" stroke-width="1.0"/>
<line x1="344.18" y1="37.90" x2="350.18" y2="37.90" stroke="#231f20" stroke-width="1.15"/>
<rect x="341.25" y="46.50" width="11.85" height="66.30" fill="#145491"/>
<line x1="362.15" y1="38.30" x2="362.15" y2="46.90" stroke="#231f20" stroke-width="1.0"/>
<line x1="359.15" y1="38.30" x2="365.15" y2="38.30" stroke="#231f20" stroke-width="1.15"/>
<rect x="356.20" y="46.90" width="11.90" height="65.90" fill="#145491"/>
<line x1="377.35" y1="38.70" x2="377.35" y2="46.50" stroke="#231f20" stroke-width="1.0"/>
<line x1="374.35" y1="38.70" x2="380.35" y2="38.70" stroke="#231f20" stroke-width="1.15"/>
<rect x="371.40" y="46.50" width="11.90" height="66.30" fill="#145491"/>
<line x1="317.00" y1="112.80" x2="317.00" y2="115.80" stroke="#231f20" stroke-width="0.9"/>
<text x="317.00" y="124.40" font-size="5.9" text-anchor="middle" fill="#231f20" font-weight="normal">0</text>
<line x1="332.10" y1="112.80" x2="332.10" y2="115.80" stroke="#231f20" stroke-width="0.9"/>
<text x="332.10" y="124.40" font-size="5.9" text-anchor="middle" fill="#231f20" font-weight="normal">0.1</text>
<line x1="347.20" y1="112.80" x2="347.20" y2="115.80" stroke="#231f20" stroke-width="0.9"/>
<text x="347.20" y="124.40" font-size="5.9" text-anchor="middle" fill="#231f20" font-weight="normal">1</text>
<line x1="362.20" y1="112.80" x2="362.20" y2="115.80" stroke="#231f20" stroke-width="0.9"/>
<text x="362.20" y="124.40" font-size="5.9" text-anchor="middle" fill="#231f20" font-weight="normal">10</text>
<line x1="377.40" y1="112.80" x2="377.40" y2="115.80" stroke="#231f20" stroke-width="0.9"/>
<text x="377.40" y="124.40" font-size="5.9" text-anchor="middle" fill="#231f20" font-weight="normal">20</text>
<line x1="313.30" y1="128.70" x2="382.80" y2="128.70" stroke="#231f20" stroke-width="0.9"/>
<text x="347.60" y="138.00" font-size="7.0" text-anchor="middle" fill="#231f20" font-weight="normal" textLength="57.60" lengthAdjust="spacingAndGlyphs" stroke="#231f20" stroke-width="0.22">[Daratumumab], &#181;g/ml</text>
<text transform="translate(281.50,69.80) rotate(-90)" font-size="7.0" text-anchor="middle" fill="#231f20" font-weight="normal" textLength="42.20" lengthAdjust="spacingAndGlyphs" stroke="#231f20" stroke-width="0.3">Trogocytosis (%)</text>
<path d="M312.10,13.50 L312.10,11.80 L377.40,11.80 L377.40,13.50" fill="none" stroke="#3d3d3d" stroke-width="0.9"/>
<text x="344.75" y="12.30" font-size="6.2" text-anchor="middle" fill="#333" font-weight="normal">****</text>
<path d="M312.10,21.10 L312.10,19.40 L362.20,19.40 L362.20,21.10" fill="none" stroke="#3d3d3d" stroke-width="0.9"/>
<text x="337.15" y="19.90" font-size="6.2" text-anchor="middle" fill="#333" font-weight="normal">****</text>
<path d="M312.10,28.70 L312.10,27.00 L347.00,27.00 L347.00,28.70" fill="none" stroke="#3d3d3d" stroke-width="0.9"/>
<text x="329.55" y="27.50" font-size="6.2" text-anchor="middle" fill="#333" font-weight="normal">****</text>
<path d="M312.10,36.10 L312.10,34.40 L331.50,34.40 L331.50,36.10" fill="none" stroke="#3d3d3d" stroke-width="0.9"/>
<text x="321.80" y="34.90" font-size="6.2" text-anchor="middle" fill="#333" font-weight="normal">****</text>
<line x1="427.90" y1="24.70" x2="427.90" y2="113.30" stroke="#231f20" stroke-width="1.05"/>
<line x1="427.40" y1="112.80" x2="511.00" y2="112.80" stroke="#231f20" stroke-width="1.1"/>
<line x1="425.40" y1="112.80" x2="427.90" y2="112.80" stroke="#231f20" stroke-width="0.9"/>
<text x="421.60" y="114.70" font-size="5.9" text-anchor="end" fill="#231f20" font-weight="normal">0</text>
<line x1="425.40" y1="95.62" x2="427.90" y2="95.62" stroke="#231f20" stroke-width="0.9"/>
<text x="421.60" y="97.52" font-size="5.9" text-anchor="end" fill="#231f20" font-weight="normal">20</text>
<line x1="425.40" y1="78.44" x2="427.90" y2="78.44" stroke="#231f20" stroke-width="0.9"/>
<text x="421.60" y="80.34" font-size="5.9" text-anchor="end" fill="#231f20" font-weight="normal">40</text>
<line x1="425.40" y1="61.26" x2="427.90" y2="61.26" stroke="#231f20" stroke-width="0.9"/>
<text x="421.60" y="63.16" font-size="5.9" text-anchor="end" fill="#231f20" font-weight="normal">60</text>
<line x1="425.40" y1="44.08" x2="427.90" y2="44.08" stroke="#231f20" stroke-width="0.9"/>
<text x="421.60" y="45.98" font-size="5.9" text-anchor="end" fill="#231f20" font-weight="normal">80</text>
<line x1="425.40" y1="26.90" x2="427.90" y2="26.90" stroke="#231f20" stroke-width="0.9"/>
<text x="421.60" y="28.80" font-size="5.9" text-anchor="end" fill="#231f20" font-weight="normal">100</text>
<line x1="438.30" y1="76.20" x2="438.30" y2="79.50" stroke="#231f20" stroke-width="1.0"/>
<line x1="435.80" y1="76.20" x2="440.80" y2="76.20" stroke="#231f20" stroke-width="1.15"/>
<rect x="433.40" y="79.50" width="9.80" height="33.30" fill="#f39000"/>
<line x1="451.40" y1="68.30" x2="451.40" y2="73.30" stroke="#231f20" stroke-width="1.0"/>
<line x1="448.90" y1="68.30" x2="453.90" y2="68.30" stroke="#231f20" stroke-width="1.15"/>
<rect x="446.50" y="73.30" width="9.80" height="39.50" fill="#145491"/>
<line x1="464.50" y1="57.70" x2="464.50" y2="62.50" stroke="#231f20" stroke-width="1.0"/>
<line x1="462.00" y1="57.70" x2="467.00" y2="57.70" stroke="#231f20" stroke-width="1.15"/>
<rect x="459.60" y="62.50" width="9.80" height="50.30" fill="#145491"/>
<line x1="477.60" y1="58.50" x2="477.60" y2="62.50" stroke="#231f20" stroke-width="1.0"/>
<line x1="475.10" y1="58.50" x2="480.10" y2="58.50" stroke="#231f20" stroke-width="1.15"/>
<rect x="472.70" y="62.50" width="9.80" height="50.30" fill="#145491"/>
<line x1="490.70" y1="58.70" x2="490.70" y2="61.20" stroke="#231f20" stroke-width="1.0"/>
<line x1="488.20" y1="58.70" x2="493.20" y2="58.70" stroke="#231f20" stroke-width="1.15"/>
<rect x="485.80" y="61.20" width="9.80" height="51.60" fill="#145491"/>
<line x1="503.80" y1="58.70" x2="503.80" y2="61.20" stroke="#231f20" stroke-width="1.0"/>
<line x1="501.30" y1="58.70" x2="506.30" y2="58.70" stroke="#231f20" stroke-width="1.15"/>
<rect x="498.90" y="61.20" width="9.80" height="51.60" fill="#145491"/>
<line x1="438.30" y1="112.80" x2="438.30" y2="115.80" stroke="#231f20" stroke-width="0.9"/>
<line x1="451.40" y1="112.80" x2="451.40" y2="115.80" stroke="#231f20" stroke-width="0.9"/>
<text x="451.40" y="124.40" font-size="5.9" text-anchor="middle" fill="#231f20" font-weight="normal">0</text>
<line x1="464.50" y1="112.80" x2="464.50" y2="115.80" stroke="#231f20" stroke-width="0.9"/>
<text x="464.50" y="124.40" font-size="5.9" text-anchor="middle" fill="#231f20" font-weight="normal">0.1</text>
<line x1="477.60" y1="112.80" x2="477.60" y2="115.80" stroke="#231f20" stroke-width="0.9"/>
<text x="477.60" y="124.40" font-size="5.9" text-anchor="middle" fill="#231f20" font-weight="normal">1</text>
<line x1="490.70" y1="112.80" x2="490.70" y2="115.80" stroke="#231f20" stroke-width="0.9"/>
<text x="490.70" y="124.40" font-size="5.9" text-anchor="middle" fill="#231f20" font-weight="normal">10</text>
<line x1="503.80" y1="112.80" x2="503.80" y2="115.80" stroke="#231f20" stroke-width="0.9"/>
<text x="503.80" y="124.40" font-size="5.9" text-anchor="middle" fill="#231f20" font-weight="normal">20</text>
<line x1="450.80" y1="128.70" x2="504.60" y2="128.70" stroke="#231f20" stroke-width="0.9"/>
<text x="477.85" y="138.10" font-size="7.0" text-anchor="middle" fill="#231f20" font-weight="normal" textLength="59.90" lengthAdjust="spacingAndGlyphs" stroke="#231f20" stroke-width="0.22">[Daratumumab], &#181;g/ml</text>
<text transform="translate(437.40,119.20) rotate(-90)" font-size="6.8" text-anchor="end" fill="#231f20" font-weight="normal" textLength="21.27" lengthAdjust="spacingAndGlyphs">MOLP-8</text>
<text transform="translate(444.60,119.20) rotate(-90)" font-size="6.8" text-anchor="end" fill="#231f20" font-weight="normal" textLength="29.53" lengthAdjust="spacingAndGlyphs">basal death</text>
<text transform="translate(405.60,70.00) rotate(-90)" font-size="7.0" text-anchor="middle" fill="#231f20" font-weight="normal" textLength="48.30" lengthAdjust="spacingAndGlyphs" stroke="#231f20" stroke-width="0.3">Dead MM cells (%)</text>
<path d="M435.60,24.40 L435.60,22.70 L504.40,22.70 L504.40,24.40" fill="none" stroke="#3d3d3d" stroke-width="0.9"/>
<text x="470.00" y="22.90" font-size="6.2" text-anchor="middle" fill="#333" font-weight="normal">*</text>
<path d="M435.60,31.60 L435.60,29.90 L490.80,29.90 L490.80,31.60" fill="none" stroke="#3d3d3d" stroke-width="0.9"/>
<text x="463.20" y="30.10" font-size="6.2" text-anchor="middle" fill="#333" font-weight="normal">*</text>
<path d="M435.60,39.30 L435.60,37.60 L477.50,37.60 L477.50,39.30" fill="none" stroke="#3d3d3d" stroke-width="0.9"/>
<text x="456.55" y="37.80" font-size="6.2" text-anchor="middle" fill="#333" font-weight="normal">*</text>
<path d="M435.60,46.90 L435.60,45.20 L463.50,45.20 L463.50,46.90" fill="none" stroke="#3d3d3d" stroke-width="0.9"/>
<text x="449.55" y="45.40" font-size="6.2" text-anchor="middle" fill="#333" font-weight="normal">*</text>
<text x="7.00" y="172.10" font-size="10" text-anchor="start" fill="#231f20" font-weight="bold" stroke="#231f20" stroke-width="0.35">C</text>
<line x1="43.30" y1="190.30" x2="43.30" y2="305.50" stroke="#231f20" stroke-width="1.05"/>
<line x1="42.80" y1="305.00" x2="256.40" y2="305.00" stroke="#231f20" stroke-width="1.1"/>
<line x1="40.80" y1="305.00" x2="43.30" y2="305.00" stroke="#231f20" stroke-width="0.9"/>
<text x="37.00" y="306.90" font-size="5.9" text-anchor="end" fill="#231f20" font-weight="normal">0</text>
<line x1="40.80" y1="282.50" x2="43.30" y2="282.50" stroke="#231f20" stroke-width="0.9"/>
<text x="37.00" y="284.40" font-size="5.9" text-anchor="end" fill="#231f20" font-weight="normal">20</text>
<line x1="40.80" y1="260.00" x2="43.30" y2="260.00" stroke="#231f20" stroke-width="0.9"/>
<text x="37.00" y="261.90" font-size="5.9" text-anchor="end" fill="#231f20" font-weight="normal">40</text>
<line x1="40.80" y1="237.50" x2="43.30" y2="237.50" stroke="#231f20" stroke-width="0.9"/>
<text x="37.00" y="239.40" font-size="5.9" text-anchor="end" fill="#231f20" font-weight="normal">60</text>
<line x1="40.80" y1="215.00" x2="43.30" y2="215.00" stroke="#231f20" stroke-width="0.9"/>
<text x="37.00" y="216.90" font-size="5.9" text-anchor="end" fill="#231f20" font-weight="normal">80</text>
<line x1="40.80" y1="192.50" x2="43.30" y2="192.50" stroke="#231f20" stroke-width="0.9"/>
<text x="37.00" y="194.40" font-size="5.9" text-anchor="end" fill="#231f20" font-weight="normal">100</text>
<rect x="52.00" y="281.00" width="14.60" height="24.00" fill="#f39000"/>
<line x1="59.30" y1="305.00" x2="59.30" y2="308.00" stroke="#231f20" stroke-width="0.9"/>
<rect x="75.50" y="281.50" width="14.50" height="23.50" fill="#145491"/>
<line x1="82.75" y1="305.00" x2="82.75" y2="308.00" stroke="#231f20" stroke-width="0.9"/>
<rect x="99.25" y="258.00" width="14.50" height="47.00" fill="#145491"/>
<line x1="106.50" y1="305.00" x2="106.50" y2="308.00" stroke="#231f20" stroke-width="0.9"/>
<rect x="122.75" y="259.20" width="14.65" height="45.80" fill="#145491"/>
<line x1="130.07" y1="305.00" x2="130.07" y2="308.00" stroke="#231f20" stroke-width="0.9"/>
<rect x="161.90" y="262.00" width="14.85" height="43.00" fill="#f39000"/>
<line x1="169.32" y1="305.00" x2="169.32" y2="308.00" stroke="#231f20" stroke-width="0.9"/>
<rect x="185.60" y="268.80" width="14.80" height="36.20" fill="#145491"/>
<line x1="193.00" y1="305.00" x2="193.00" y2="308.00" stroke="#231f20" stroke-width="0.9"/>
<rect x="209.50" y="247.00" width="14.60" height="58.00" fill="#145491"/>
<line x1="216.80" y1="305.00" x2="216.80" y2="308.00" stroke="#231f20" stroke-width="0.9"/>
<rect x="233.00" y="251.50" width="14.50" height="53.50" fill="#145491"/>
<line x1="240.25" y1="305.00" x2="240.25" y2="308.00" stroke="#231f20" stroke-width="0.9"/>
<text x="82.60" y="315.60" font-size="6.0" text-anchor="middle" fill="#231f20" font-weight="normal">0</text>
<text x="106.30" y="315.60" font-size="6.0" text-anchor="middle" fill="#231f20" font-weight="normal">1</text>
<text x="129.90" y="315.60" font-size="6.0" text-anchor="middle" fill="#231f20" font-weight="normal">10</text>
<text x="192.70" y="315.60" font-size="6.0" text-anchor="middle" fill="#231f20" font-weight="normal">0</text>
<text x="216.60" y="315.60" font-size="6.0" text-anchor="middle" fill="#231f20" font-weight="normal">1</text>
<text x="240.40" y="315.60" font-size="6.0" text-anchor="middle" fill="#231f20" font-weight="normal">10</text>
<text x="58.30" y="315.80" font-size="6.9" text-anchor="middle" fill="#231f20" font-weight="normal" textLength="22.86" lengthAdjust="spacingAndGlyphs">MM cells</text>
<text x="58.30" y="322.60" font-size="6.9" text-anchor="middle" fill="#231f20" font-weight="normal" textLength="29.97" lengthAdjust="spacingAndGlyphs">basal death</text>
<text x="169.20" y="315.80" font-size="6.9" text-anchor="middle" fill="#231f20" font-weight="normal" textLength="22.86" lengthAdjust="spacingAndGlyphs">MM cells</text>
<text x="169.20" y="322.60" font-size="6.9" text-anchor="middle" fill="#231f20" font-weight="normal" textLength="29.97" lengthAdjust="spacingAndGlyphs">basal death</text>
<line x1="77.80" y1="320.30" x2="135.70" y2="320.30" stroke="#231f20" stroke-width="0.9"/>
<line x1="185.30" y1="320.00" x2="245.90" y2="320.00" stroke="#231f20" stroke-width="0.9"/>
<text x="107.40" y="332.40" font-size="7.0" text-anchor="middle" fill="#231f20" font-weight="normal" textLength="59.20" lengthAdjust="spacingAndGlyphs" stroke="#231f20" stroke-width="0.22">[Daratumumab], &#181;g/ml</text>
<text x="217.75" y="332.40" font-size="7.0" text-anchor="middle" fill="#231f20" font-weight="normal" textLength="60.50" lengthAdjust="spacingAndGlyphs" stroke="#231f20" stroke-width="0.22">[Daratumumab], &#181;g/ml</text>
<line x1="149.75" y1="190.8" x2="149.75" y2="304.6" stroke="#231f20" stroke-width="1.0" stroke-dasharray="3,3.15"/>
<text x="94.50" y="184.90" font-size="7.8" text-anchor="middle" fill="#231f20" font-weight="normal" stroke="#231f20" stroke-width="0.12">Patient 1</text>
<text x="204.80" y="184.90" font-size="7.8" text-anchor="middle" fill="#231f20" font-weight="normal" stroke="#231f20" stroke-width="0.12">Patient 2</text>
<text transform="translate(21.80,248.90) rotate(-90)" font-size="7.0" text-anchor="middle" fill="#231f20" font-weight="normal" textLength="47.80" lengthAdjust="spacingAndGlyphs" stroke="#231f20" stroke-width="0.3">Dead MM cells (%)</text>
<text x="7.50" y="368.80" font-size="10" text-anchor="start" fill="#231f20" font-weight="bold" stroke="#231f20" stroke-width="0.35">E</text>
<text x="132.00" y="368.60" font-size="7.8" text-anchor="middle" fill="#231f20" font-weight="normal" stroke="#231f20" stroke-width="0.12">RPMI-8226</text>
<line x1="43.00" y1="376.50" x2="43.00" y2="459.10" stroke="#231f20" stroke-width="1.05"/>
<line x1="42.50" y1="458.60" x2="123.00" y2="458.60" stroke="#231f20" stroke-width="1.1"/>
<line x1="40.50" y1="458.60" x2="43.00" y2="458.60" stroke="#231f20" stroke-width="0.9"/>
<text x="36.70" y="460.50" font-size="5.9" text-anchor="end" fill="#231f20" font-weight="normal">0</text>
<line x1="40.50" y1="442.62" x2="43.00" y2="442.62" stroke="#231f20" stroke-width="0.9"/>
<text x="36.70" y="444.52" font-size="5.9" text-anchor="end" fill="#231f20" font-weight="normal">20</text>
<line x1="40.50" y1="426.64" x2="43.00" y2="426.64" stroke="#231f20" stroke-width="0.9"/>
<text x="36.70" y="428.54" font-size="5.9" text-anchor="end" fill="#231f20" font-weight="normal">40</text>
<line x1="40.50" y1="410.66" x2="43.00" y2="410.66" stroke="#231f20" stroke-width="0.9"/>
<text x="36.70" y="412.56" font-size="5.9" text-anchor="end" fill="#231f20" font-weight="normal">60</text>
<line x1="40.50" y1="394.68" x2="43.00" y2="394.68" stroke="#231f20" stroke-width="0.9"/>
<text x="36.70" y="396.58" font-size="5.9" text-anchor="end" fill="#231f20" font-weight="normal">80</text>
<line x1="40.50" y1="378.70" x2="43.00" y2="378.70" stroke="#231f20" stroke-width="0.9"/>
<text x="36.70" y="380.60" font-size="5.9" text-anchor="end" fill="#231f20" font-weight="normal">100</text>
<line x1="59.30" y1="454.50" x2="59.30" y2="455.70" stroke="#231f20" stroke-width="1.0"/>
<line x1="55.80" y1="454.50" x2="62.80" y2="454.50" stroke="#231f20" stroke-width="1.15"/>
<rect x="51.80" y="455.70" width="15.00" height="2.90" fill="#145491"/>
<line x1="83.50" y1="438.00" x2="83.50" y2="443.00" stroke="#231f20" stroke-width="1.0"/>
<line x1="80.00" y1="438.00" x2="87.00" y2="438.00" stroke="#231f20" stroke-width="1.15"/>
<rect x="76.00" y="443.00" width="15.00" height="15.60" fill="#145491"/>
<line x1="107.75" y1="437.00" x2="107.75" y2="442.00" stroke="#231f20" stroke-width="1.0"/>
<line x1="104.25" y1="437.00" x2="111.25" y2="437.00" stroke="#231f20" stroke-width="1.15"/>
<rect x="100.20" y="442.00" width="15.10" height="16.60" fill="#145491"/>
<line x1="59.30" y1="458.60" x2="59.30" y2="461.60" stroke="#231f20" stroke-width="0.9"/>
<text x="59.30" y="470.00" font-size="5.9" text-anchor="middle" fill="#231f20" font-weight="normal">0</text>
<line x1="83.50" y1="458.60" x2="83.50" y2="461.60" stroke="#231f20" stroke-width="0.9"/>
<text x="83.50" y="470.00" font-size="5.9" text-anchor="middle" fill="#231f20" font-weight="normal">1</text>
<line x1="107.75" y1="458.60" x2="107.75" y2="461.60" stroke="#231f20" stroke-width="0.9"/>
<text x="107.75" y="470.00" font-size="5.9" text-anchor="middle" fill="#231f20" font-weight="normal">10</text>
<text x="83.25" y="482.70" font-size="7.0" text-anchor="middle" fill="#231f20" font-weight="normal" textLength="58.90" lengthAdjust="spacingAndGlyphs" stroke="#231f20" stroke-width="0.22">[Daratumumab], &#181;g/ml</text>
<text transform="translate(21.00,419.10) rotate(-90)" font-size="7.0" text-anchor="middle" fill="#231f20" font-weight="normal" textLength="41.80" lengthAdjust="spacingAndGlyphs" stroke="#231f20" stroke-width="0.3">Trogocytosis (%)</text>
<path d="M59.25,424.70 L59.25,423.00 L107.50,423.00 L107.50,424.70" fill="none" stroke="#3d3d3d" stroke-width="0.9"/>
<text x="83.38" y="423.20" font-size="6.2" text-anchor="middle" fill="#333" font-weight="normal">*</text>
<path d="M59.25,432.90 L59.25,431.20 L82.80,431.20 L82.80,432.90" fill="none" stroke="#3d3d3d" stroke-width="0.9"/>
<text x="71.03" y="431.40" font-size="6.2" text-anchor="middle" fill="#333" font-weight="normal">*</text>
<line x1="166.40" y1="375.80" x2="166.40" y2="458.90" stroke="#231f20" stroke-width="1.05"/>
<line x1="165.90" y1="458.40" x2="246.70" y2="458.40" stroke="#231f20" stroke-width="1.1"/>
<line x1="163.90" y1="458.40" x2="166.40" y2="458.40" stroke="#231f20" stroke-width="0.9"/>
<text x="160.10" y="460.30" font-size="5.9" text-anchor="end" fill="#231f20" font-weight="normal">0</text>
<line x1="163.90" y1="442.32" x2="166.40" y2="442.32" stroke="#231f20" stroke-width="0.9"/>
<text x="160.10" y="444.22" font-size="5.9" text-anchor="end" fill="#231f20" font-weight="normal">20</text>
<line x1="163.90" y1="426.24" x2="166.40" y2="426.24" stroke="#231f20" stroke-width="0.9"/>
<text x="160.10" y="428.14" font-size="5.9" text-anchor="end" fill="#231f20" font-weight="normal">40</text>
<line x1="163.90" y1="410.16" x2="166.40" y2="410.16" stroke="#231f20" stroke-width="0.9"/>
<text x="160.10" y="412.06" font-size="5.9" text-anchor="end" fill="#231f20" font-weight="normal">60</text>
<line x1="163.90" y1="394.08" x2="166.40" y2="394.08" stroke="#231f20" stroke-width="0.9"/>
<text x="160.10" y="395.98" font-size="5.9" text-anchor="end" fill="#231f20" font-weight="normal">80</text>
<line x1="163.90" y1="378.00" x2="166.40" y2="378.00" stroke="#231f20" stroke-width="0.9"/>
<text x="160.10" y="379.90" font-size="5.9" text-anchor="end" fill="#231f20" font-weight="normal">100</text>
<line x1="179.10" y1="427.00" x2="179.10" y2="430.80" stroke="#231f20" stroke-width="1.0"/>
<line x1="176.10" y1="427.00" x2="182.10" y2="427.00" stroke="#231f20" stroke-width="1.15"/>
<rect x="173.30" y="430.80" width="11.60" height="27.60" fill="#f39000"/>
<line x1="197.85" y1="432.20" x2="197.85" y2="434.20" stroke="#231f20" stroke-width="1.0"/>
<line x1="194.85" y1="432.20" x2="200.85" y2="432.20" stroke="#231f20" stroke-width="1.15"/>
<rect x="192.30" y="434.20" width="11.10" height="24.20" fill="#145491"/>
<line x1="216.45" y1="410.60" x2="216.45" y2="416.90" stroke="#231f20" stroke-width="1.0"/>
<line x1="213.45" y1="410.60" x2="219.45" y2="410.60" stroke="#231f20" stroke-width="1.15"/>
<rect x="210.80" y="416.90" width="11.30" height="41.50" fill="#145491"/>
<line x1="235.15" y1="411.00" x2="235.15" y2="417.80" stroke="#231f20" stroke-width="1.0"/>
<line x1="232.15" y1="411.00" x2="238.15" y2="411.00" stroke="#231f20" stroke-width="1.15"/>
<rect x="229.50" y="417.80" width="11.30" height="40.60" fill="#145491"/>
<line x1="179.10" y1="458.40" x2="179.10" y2="461.40" stroke="#231f20" stroke-width="0.9"/>
<line x1="197.90" y1="458.40" x2="197.90" y2="461.40" stroke="#231f20" stroke-width="0.9"/>
<text x="197.90" y="469.40" font-size="5.9" text-anchor="middle" fill="#231f20" font-weight="normal">0</text>
<line x1="216.50" y1="458.40" x2="216.50" y2="461.40" stroke="#231f20" stroke-width="0.9"/>
<text x="216.50" y="469.40" font-size="5.9" text-anchor="middle" fill="#231f20" font-weight="normal">1</text>
<line x1="235.20" y1="458.40" x2="235.20" y2="461.40" stroke="#231f20" stroke-width="0.9"/>
<text x="235.20" y="469.40" font-size="5.9" text-anchor="middle" fill="#231f20" font-weight="normal">10</text>
<line x1="197.90" y1="473.90" x2="235.90" y2="473.90" stroke="#231f20" stroke-width="0.9"/>
<text x="217.05" y="482.90" font-size="7.0" text-anchor="middle" fill="#231f20" font-weight="normal" textLength="58.50" lengthAdjust="spacingAndGlyphs" stroke="#231f20" stroke-width="0.22">[Daratumumab], &#181;g/ml</text>
<text transform="translate(177.70,465.20) rotate(-90)" font-size="6.8" text-anchor="end" fill="#231f20" font-weight="normal" textLength="14.28" lengthAdjust="spacingAndGlyphs">RPMI</text>
<text transform="translate(184.80,465.20) rotate(-90)" font-size="6.8" text-anchor="end" fill="#231f20" font-weight="normal" textLength="29.53" lengthAdjust="spacingAndGlyphs">basal death</text>
<text transform="translate(144.80,418.60) rotate(-90)" font-size="7.0" text-anchor="middle" fill="#231f20" font-weight="normal" textLength="47.20" lengthAdjust="spacingAndGlyphs" stroke="#231f20" stroke-width="0.3">Dead MM cells (%)</text>
<text x="262.20" y="369.10" font-size="10" text-anchor="start" fill="#231f20" font-weight="bold" stroke="#231f20" stroke-width="0.35">F</text>
<text x="388.00" y="368.60" font-size="7.8" text-anchor="middle" fill="#231f20" font-weight="normal" stroke="#231f20" stroke-width="0.12">NCI-H929</text>
<line x1="297.60" y1="374.30" x2="297.60" y2="459.00" stroke="#231f20" stroke-width="1.05"/>
<line x1="297.10" y1="458.50" x2="376.30" y2="458.50" stroke="#231f20" stroke-width="1.1"/>
<line x1="295.10" y1="458.50" x2="297.60" y2="458.50" stroke="#231f20" stroke-width="0.9"/>
<text x="291.30" y="460.40" font-size="5.9" text-anchor="end" fill="#231f20" font-weight="normal">0</text>
<line x1="295.10" y1="442.10" x2="297.60" y2="442.10" stroke="#231f20" stroke-width="0.9"/>
<text x="291.30" y="444.00" font-size="5.9" text-anchor="end" fill="#231f20" font-weight="normal">20</text>
<line x1="295.10" y1="425.70" x2="297.60" y2="425.70" stroke="#231f20" stroke-width="0.9"/>
<text x="291.30" y="427.60" font-size="5.9" text-anchor="end" fill="#231f20" font-weight="normal">40</text>
<line x1="295.10" y1="409.30" x2="297.60" y2="409.30" stroke="#231f20" stroke-width="0.9"/>
<text x="291.30" y="411.20" font-size="5.9" text-anchor="end" fill="#231f20" font-weight="normal">60</text>
<line x1="295.10" y1="392.90" x2="297.60" y2="392.90" stroke="#231f20" stroke-width="0.9"/>
<text x="291.30" y="394.80" font-size="5.9" text-anchor="end" fill="#231f20" font-weight="normal">80</text>
<line x1="295.10" y1="376.50" x2="297.60" y2="376.50" stroke="#231f20" stroke-width="0.9"/>
<text x="291.30" y="378.40" font-size="5.9" text-anchor="end" fill="#231f20" font-weight="normal">100</text>
<line x1="314.00" y1="453.20" x2="314.00" y2="455.70" stroke="#231f20" stroke-width="1.0"/>
<line x1="310.50" y1="453.20" x2="317.50" y2="453.20" stroke="#231f20" stroke-width="1.15"/>
<rect x="306.20" y="455.70" width="15.60" height="2.80" fill="#145491"/>
<line x1="338.25" y1="440.00" x2="338.25" y2="443.00" stroke="#231f20" stroke-width="1.0"/>
<line x1="334.75" y1="440.00" x2="341.75" y2="440.00" stroke="#231f20" stroke-width="1.15"/>
<rect x="330.50" y="443.00" width="15.50" height="15.50" fill="#145491"/>
<line x1="363.00" y1="439.30" x2="363.00" y2="442.50" stroke="#231f20" stroke-width="1.0"/>
<line x1="359.50" y1="439.30" x2="366.50" y2="439.30" stroke="#231f20" stroke-width="1.15"/>
<rect x="355.20" y="442.50" width="15.60" height="16.00" fill="#145491"/>
<line x1="314.00" y1="458.50" x2="314.00" y2="461.50" stroke="#231f20" stroke-width="0.9"/>
<text x="314.00" y="469.70" font-size="5.9" text-anchor="middle" fill="#231f20" font-weight="normal">0</text>
<line x1="338.30" y1="458.50" x2="338.30" y2="461.50" stroke="#231f20" stroke-width="0.9"/>
<text x="338.30" y="469.70" font-size="5.9" text-anchor="middle" fill="#231f20" font-weight="normal">1</text>
<line x1="363.00" y1="458.50" x2="363.00" y2="461.50" stroke="#231f20" stroke-width="0.9"/>
<text x="363.00" y="469.70" font-size="5.9" text-anchor="middle" fill="#231f20" font-weight="normal">10</text>
<text x="338.25" y="482.70" font-size="7.0" text-anchor="middle" fill="#231f20" font-weight="normal" textLength="58.90" lengthAdjust="spacingAndGlyphs" stroke="#231f20" stroke-width="0.22">[Daratumumab], &#181;g/ml</text>
<text transform="translate(275.30,417.90) rotate(-90)" font-size="7.0" text-anchor="middle" fill="#231f20" font-weight="normal" textLength="41.80" lengthAdjust="spacingAndGlyphs" stroke="#231f20" stroke-width="0.3">Trogocytosis (%)</text>
<path d="M312.50,425.95 L312.50,424.25 L362.50,424.25 L362.50,425.95" fill="none" stroke="#3d3d3d" stroke-width="0.9"/>
<text x="337.50" y="424.45" font-size="6.2" text-anchor="middle" fill="#333" font-weight="normal">*</text>
<path d="M312.50,435.45 L312.50,433.75 L338.70,433.75 L338.70,435.45" fill="none" stroke="#3d3d3d" stroke-width="0.9"/>
<text x="325.60" y="433.95" font-size="6.2" text-anchor="middle" fill="#333" font-weight="normal">*</text>
<line x1="422.10" y1="375.80" x2="422.10" y2="458.90" stroke="#231f20" stroke-width="1.05"/>
<line x1="421.60" y1="458.40" x2="502.20" y2="458.40" stroke="#231f20" stroke-width="1.1"/>
<line x1="419.60" y1="458.40" x2="422.10" y2="458.40" stroke="#231f20" stroke-width="0.9"/>
<text x="415.80" y="460.30" font-size="5.9" text-anchor="end" fill="#231f20" font-weight="normal">0</text>
<line x1="419.60" y1="442.32" x2="422.10" y2="442.32" stroke="#231f20" stroke-width="0.9"/>
<text x="415.80" y="444.22" font-size="5.9" text-anchor="end" fill="#231f20" font-weight="normal">20</text>
<line x1="419.60" y1="426.24" x2="422.10" y2="426.24" stroke="#231f20" stroke-width="0.9"/>
<text x="415.80" y="428.14" font-size="5.9" text-anchor="end" fill="#231f20" font-weight="normal">40</text>
<line x1="419.60" y1="410.16" x2="422.10" y2="410.16" stroke="#231f20" stroke-width="0.9"/>
<text x="415.80" y="412.06" font-size="5.9" text-anchor="end" fill="#231f20" font-weight="normal">60</text>
<line x1="419.60" y1="394.08" x2="422.10" y2="394.08" stroke="#231f20" stroke-width="0.9"/>
<text x="415.80" y="395.98" font-size="5.9" text-anchor="end" fill="#231f20" font-weight="normal">80</text>
<line x1="419.60" y1="378.00" x2="422.10" y2="378.00" stroke="#231f20" stroke-width="0.9"/>
<text x="415.80" y="379.90" font-size="5.9" text-anchor="end" fill="#231f20" font-weight="normal">100</text>
<line x1="434.90" y1="430.20" x2="434.90" y2="434.20" stroke="#231f20" stroke-width="1.0"/>
<line x1="431.90" y1="430.20" x2="437.90" y2="430.20" stroke="#231f20" stroke-width="1.15"/>
<rect x="429.00" y="434.20" width="11.80" height="24.20" fill="#f39000"/>
<line x1="453.80" y1="430.20" x2="453.80" y2="432.80" stroke="#231f20" stroke-width="1.0"/>
<line x1="450.80" y1="430.20" x2="456.80" y2="430.20" stroke="#231f20" stroke-width="1.15"/>
<rect x="448.20" y="432.80" width="11.20" height="25.60" fill="#145491"/>
<line x1="472.35" y1="425.60" x2="472.35" y2="428.70" stroke="#231f20" stroke-width="1.0"/>
<line x1="469.35" y1="425.60" x2="475.35" y2="425.60" stroke="#231f20" stroke-width="1.15"/>
<rect x="466.70" y="428.70" width="11.30" height="29.70" fill="#145491"/>
<line x1="491.00" y1="425.60" x2="491.00" y2="430.20" stroke="#231f20" stroke-width="1.0"/>
<line x1="488.00" y1="425.60" x2="494.00" y2="425.60" stroke="#231f20" stroke-width="1.15"/>
<rect x="485.40" y="430.20" width="11.20" height="28.20" fill="#145491"/>
<line x1="434.90" y1="458.40" x2="434.90" y2="461.40" stroke="#231f20" stroke-width="0.9"/>
<line x1="453.80" y1="458.40" x2="453.80" y2="461.40" stroke="#231f20" stroke-width="0.9"/>
<text x="453.80" y="469.40" font-size="5.9" text-anchor="middle" fill="#231f20" font-weight="normal">0</text>
<line x1="472.40" y1="458.40" x2="472.40" y2="461.40" stroke="#231f20" stroke-width="0.9"/>
<text x="472.40" y="469.40" font-size="5.9" text-anchor="middle" fill="#231f20" font-weight="normal">1</text>
<line x1="491.00" y1="458.40" x2="491.00" y2="461.40" stroke="#231f20" stroke-width="0.9"/>
<text x="491.00" y="469.40" font-size="5.9" text-anchor="middle" fill="#231f20" font-weight="normal">10</text>
<line x1="454.30" y1="473.90" x2="491.80" y2="473.90" stroke="#231f20" stroke-width="0.9"/>
<text x="473.30" y="482.90" font-size="7.0" text-anchor="middle" fill="#231f20" font-weight="normal" textLength="58.80" lengthAdjust="spacingAndGlyphs" stroke="#231f20" stroke-width="0.22">[Daratumumab], &#181;g/ml</text>
<text transform="translate(433.00,465.20) rotate(-90)" font-size="6.8" text-anchor="end" fill="#231f20" font-weight="normal" textLength="13.65" lengthAdjust="spacingAndGlyphs">H929</text>
<text transform="translate(440.50,465.20) rotate(-90)" font-size="6.8" text-anchor="end" fill="#231f20" font-weight="normal" textLength="29.53" lengthAdjust="spacingAndGlyphs">basal death</text>
<text transform="translate(401.00,418.30) rotate(-90)" font-size="7.0" text-anchor="middle" fill="#231f20" font-weight="normal" textLength="47.70" lengthAdjust="spacingAndGlyphs" stroke="#231f20" stroke-width="0.3">Dead MM cells (%)</text>
<text x="6.60" y="518.50" font-size="10" text-anchor="start" fill="#231f20" font-weight="bold" stroke="#231f20" stroke-width="0.35">G</text>
<text x="131.00" y="518.60" font-size="7.8" text-anchor="middle" fill="#231f20" font-weight="normal" stroke="#231f20" stroke-width="0.12">U266</text>
<line x1="43.30" y1="528.80" x2="43.30" y2="611.20" stroke="#231f20" stroke-width="1.05"/>
<line x1="42.80" y1="610.70" x2="122.70" y2="610.70" stroke="#231f20" stroke-width="1.1"/>
<line x1="40.80" y1="610.70" x2="43.30" y2="610.70" stroke="#231f20" stroke-width="0.9"/>
<text x="37.00" y="612.60" font-size="5.9" text-anchor="end" fill="#231f20" font-weight="normal">0</text>
<line x1="40.80" y1="594.76" x2="43.30" y2="594.76" stroke="#231f20" stroke-width="0.9"/>
<text x="37.00" y="596.66" font-size="5.9" text-anchor="end" fill="#231f20" font-weight="normal">20</text>
<line x1="40.80" y1="578.82" x2="43.30" y2="578.82" stroke="#231f20" stroke-width="0.9"/>
<text x="37.00" y="580.72" font-size="5.9" text-anchor="end" fill="#231f20" font-weight="normal">40</text>
<line x1="40.80" y1="562.88" x2="43.30" y2="562.88" stroke="#231f20" stroke-width="0.9"/>
<text x="37.00" y="564.78" font-size="5.9" text-anchor="end" fill="#231f20" font-weight="normal">60</text>
<line x1="40.80" y1="546.94" x2="43.30" y2="546.94" stroke="#231f20" stroke-width="0.9"/>
<text x="37.00" y="548.84" font-size="5.9" text-anchor="end" fill="#231f20" font-weight="normal">80</text>
<line x1="40.80" y1="531.00" x2="43.30" y2="531.00" stroke="#231f20" stroke-width="0.9"/>
<text x="37.00" y="532.90" font-size="5.9" text-anchor="end" fill="#231f20" font-weight="normal">100</text>
<line x1="59.30" y1="607.40" x2="59.30" y2="608.30" stroke="#231f20" stroke-width="1.0"/>
<line x1="55.80" y1="607.40" x2="62.80" y2="607.40" stroke="#231f20" stroke-width="1.15"/>
<rect x="51.80" y="608.30" width="15.00" height="2.40" fill="#145491"/>
<line x1="83.10" y1="607.00" x2="83.10" y2="607.80" stroke="#231f20" stroke-width="1.0"/>
<line x1="79.60" y1="607.00" x2="86.60" y2="607.00" stroke="#231f20" stroke-width="1.15"/>
<rect x="75.50" y="607.80" width="15.20" height="2.90" fill="#145491"/>
<line x1="106.95" y1="605.70" x2="106.95" y2="606.90" stroke="#231f20" stroke-width="1.0"/>
<line x1="103.45" y1="605.70" x2="110.45" y2="605.70" stroke="#231f20" stroke-width="1.15"/>
<rect x="99.20" y="606.90" width="15.50" height="3.80" fill="#145491"/>
<line x1="59.30" y1="610.70" x2="59.30" y2="613.70" stroke="#231f20" stroke-width="0.9"/>
<text x="59.30" y="622.10" font-size="5.9" text-anchor="middle" fill="#231f20" font-weight="normal">0</text>
<line x1="83.10" y1="610.70" x2="83.10" y2="613.70" stroke="#231f20" stroke-width="0.9"/>
<text x="83.10" y="622.10" font-size="5.9" text-anchor="middle" fill="#231f20" font-weight="normal">1</text>
<line x1="107.00" y1="610.70" x2="107.00" y2="613.70" stroke="#231f20" stroke-width="0.9"/>
<text x="107.00" y="622.10" font-size="5.9" text-anchor="middle" fill="#231f20" font-weight="normal">10</text>
<text x="83.10" y="633.70" font-size="7.0" text-anchor="middle" fill="#231f20" font-weight="normal" textLength="59.20" lengthAdjust="spacingAndGlyphs" stroke="#231f20" stroke-width="0.22">[Daratumumab], &#181;g/ml</text>
<text transform="translate(21.00,571.00) rotate(-90)" font-size="7.0" text-anchor="middle" fill="#231f20" font-weight="normal" textLength="41.30" lengthAdjust="spacingAndGlyphs" stroke="#231f20" stroke-width="0.3">Trogocytosis (%)</text>
<line x1="165.50" y1="528.10" x2="165.50" y2="610.90" stroke="#231f20" stroke-width="1.05"/>
<line x1="165.00" y1="610.40" x2="246.40" y2="610.40" stroke="#231f20" stroke-width="1.1"/>
<line x1="163.00" y1="610.40" x2="165.50" y2="610.40" stroke="#231f20" stroke-width="0.9"/>
<text x="159.20" y="612.30" font-size="5.9" text-anchor="end" fill="#231f20" font-weight="normal">0</text>
<line x1="163.00" y1="594.38" x2="165.50" y2="594.38" stroke="#231f20" stroke-width="0.9"/>
<text x="159.20" y="596.28" font-size="5.9" text-anchor="end" fill="#231f20" font-weight="normal">20</text>
<line x1="163.00" y1="578.36" x2="165.50" y2="578.36" stroke="#231f20" stroke-width="0.9"/>
<text x="159.20" y="580.26" font-size="5.9" text-anchor="end" fill="#231f20" font-weight="normal">40</text>
<line x1="163.00" y1="562.34" x2="165.50" y2="562.34" stroke="#231f20" stroke-width="0.9"/>
<text x="159.20" y="564.24" font-size="5.9" text-anchor="end" fill="#231f20" font-weight="normal">60</text>
<line x1="163.00" y1="546.32" x2="165.50" y2="546.32" stroke="#231f20" stroke-width="0.9"/>
<text x="159.20" y="548.22" font-size="5.9" text-anchor="end" fill="#231f20" font-weight="normal">80</text>
<line x1="163.00" y1="530.30" x2="165.50" y2="530.30" stroke="#231f20" stroke-width="0.9"/>
<text x="159.20" y="532.20" font-size="5.9" text-anchor="end" fill="#231f20" font-weight="normal">100</text>
<line x1="178.00" y1="590.30" x2="178.00" y2="595.20" stroke="#231f20" stroke-width="1.0"/>
<line x1="175.00" y1="590.30" x2="181.00" y2="590.30" stroke="#231f20" stroke-width="1.15"/>
<rect x="172.40" y="595.20" width="11.20" height="15.20" fill="#f39000"/>
<line x1="197.05" y1="584.20" x2="197.05" y2="590.00" stroke="#231f20" stroke-width="1.0"/>
<line x1="194.05" y1="584.20" x2="200.05" y2="584.20" stroke="#231f20" stroke-width="1.15"/>
<rect x="191.40" y="590.00" width="11.30" height="20.40" fill="#145491"/>
<line x1="215.65" y1="584.50" x2="215.65" y2="590.00" stroke="#231f20" stroke-width="1.0"/>
<line x1="212.65" y1="584.50" x2="218.65" y2="584.50" stroke="#231f20" stroke-width="1.15"/>
<rect x="210.10" y="590.00" width="11.10" height="20.40" fill="#145491"/>
<line x1="234.25" y1="583.60" x2="234.25" y2="589.40" stroke="#231f20" stroke-width="1.0"/>
<line x1="231.25" y1="583.60" x2="237.25" y2="583.60" stroke="#231f20" stroke-width="1.15"/>
<rect x="228.60" y="589.40" width="11.30" height="21.00" fill="#145491"/>
<line x1="178.00" y1="610.40" x2="178.00" y2="613.40" stroke="#231f20" stroke-width="0.9"/>
<line x1="197.00" y1="610.40" x2="197.00" y2="613.40" stroke="#231f20" stroke-width="0.9"/>
<text x="197.00" y="621.60" font-size="5.9" text-anchor="middle" fill="#231f20" font-weight="normal">0</text>
<line x1="215.60" y1="610.40" x2="215.60" y2="613.40" stroke="#231f20" stroke-width="0.9"/>
<text x="215.60" y="621.60" font-size="5.9" text-anchor="middle" fill="#231f20" font-weight="normal">1</text>
<line x1="234.20" y1="610.40" x2="234.20" y2="613.40" stroke="#231f20" stroke-width="0.9"/>
<text x="234.20" y="621.60" font-size="5.9" text-anchor="middle" fill="#231f20" font-weight="normal">10</text>
<line x1="197.50" y1="626.30" x2="234.70" y2="626.30" stroke="#231f20" stroke-width="0.9"/>
<text x="216.50" y="635.50" font-size="7.0" text-anchor="middle" fill="#231f20" font-weight="normal" textLength="58.80" lengthAdjust="spacingAndGlyphs" stroke="#231f20" stroke-width="0.22">[Daratumumab], &#181;g/ml</text>
<text transform="translate(176.80,616.40) rotate(-90)" font-size="6.8" text-anchor="end" fill="#231f20" font-weight="normal" textLength="13.65" lengthAdjust="spacingAndGlyphs">U266</text>
<text transform="translate(184.00,616.40) rotate(-90)" font-size="6.8" text-anchor="end" fill="#231f20" font-weight="normal" textLength="29.53" lengthAdjust="spacingAndGlyphs">basal death</text>
<text transform="translate(144.50,570.80) rotate(-90)" font-size="7.0" text-anchor="middle" fill="#231f20" font-weight="normal" textLength="47.70" lengthAdjust="spacingAndGlyphs" stroke="#231f20" stroke-width="0.3">Dead MM cells (%)</text>
<text x="260.90" y="518.70" font-size="10" text-anchor="start" fill="#231f20" font-weight="bold" stroke="#231f20" stroke-width="0.35">H</text>
<line x1="297.60" y1="525.80" x2="297.60" y2="611.40" stroke="#231f20" stroke-width="1.05"/>
<line x1="297.10" y1="610.90" x2="381.50" y2="610.90" stroke="#231f20" stroke-width="1.1"/>
<line x1="295.10" y1="610.90" x2="297.60" y2="610.90" stroke="#231f20" stroke-width="0.9"/>
<text x="291.30" y="612.80" font-size="5.9" text-anchor="end" fill="#231f20" font-weight="normal">0</text>
<line x1="295.10" y1="594.32" x2="297.60" y2="594.32" stroke="#231f20" stroke-width="0.9"/>
<text x="291.30" y="596.22" font-size="5.9" text-anchor="end" fill="#231f20" font-weight="normal">20</text>
<line x1="295.10" y1="577.74" x2="297.60" y2="577.74" stroke="#231f20" stroke-width="0.9"/>
<text x="291.30" y="579.64" font-size="5.9" text-anchor="end" fill="#231f20" font-weight="normal">40</text>
<line x1="295.10" y1="561.16" x2="297.60" y2="561.16" stroke="#231f20" stroke-width="0.9"/>
<text x="291.30" y="563.06" font-size="5.9" text-anchor="end" fill="#231f20" font-weight="normal">60</text>
<line x1="295.10" y1="544.58" x2="297.60" y2="544.58" stroke="#231f20" stroke-width="0.9"/>
<text x="291.30" y="546.48" font-size="5.9" text-anchor="end" fill="#231f20" font-weight="normal">80</text>
<line x1="295.10" y1="528.00" x2="297.60" y2="528.00" stroke="#231f20" stroke-width="0.9"/>
<text x="291.30" y="529.90" font-size="5.9" text-anchor="end" fill="#231f20" font-weight="normal">100</text>
<rect x="300.20" y="609.90" width="4.80" height="1.00" fill="#c8102e"/>
<rect x="308.80" y="609.70" width="4.70" height="1.20" fill="#29a8e0"/>
<rect x="317.10" y="609.90" width="4.40" height="1.00" fill="#0d6b4c"/>
<line x1="330.90" y1="602.40" x2="330.90" y2="603.70" stroke="#231f20" stroke-width="1.0"/>
<line x1="328.90" y1="602.40" x2="332.90" y2="602.40" stroke="#231f20" stroke-width="1.15"/>
<rect x="327.90" y="603.70" width="6.00" height="7.20" fill="#c8102e"/>
<line x1="339.00" y1="599.30" x2="339.00" y2="600.50" stroke="#231f20" stroke-width="1.0"/>
<line x1="337.00" y1="599.30" x2="341.00" y2="599.30" stroke="#231f20" stroke-width="1.15"/>
<rect x="336.00" y="600.50" width="6.00" height="10.40" fill="#29a8e0"/>
<line x1="347.70" y1="570.80" x2="347.70" y2="574.20" stroke="#231f20" stroke-width="1.0"/>
<line x1="345.70" y1="570.80" x2="349.70" y2="570.80" stroke="#231f20" stroke-width="1.15"/>
<rect x="344.70" y="574.20" width="6.00" height="36.70" fill="#0d6b4c"/>
<line x1="359.10" y1="601.60" x2="359.10" y2="603.30" stroke="#231f20" stroke-width="1.0"/>
<line x1="357.10" y1="601.60" x2="361.10" y2="601.60" stroke="#231f20" stroke-width="1.15"/>
<rect x="356.10" y="603.30" width="6.00" height="7.60" fill="#c8102e"/>
<line x1="367.40" y1="595.90" x2="367.40" y2="597.90" stroke="#231f20" stroke-width="1.0"/>
<line x1="365.40" y1="595.90" x2="369.40" y2="595.90" stroke="#231f20" stroke-width="1.15"/>
<rect x="364.20" y="597.90" width="6.40" height="13.00" fill="#29a8e0"/>
<line x1="375.45" y1="568.00" x2="375.45" y2="574.20" stroke="#231f20" stroke-width="1.0"/>
<line x1="373.45" y1="568.00" x2="377.45" y2="568.00" stroke="#231f20" stroke-width="1.15"/>
<rect x="372.30" y="574.20" width="6.30" height="36.70" fill="#0d6b4c"/>
<line x1="310.90" y1="610.90" x2="310.90" y2="613.90" stroke="#231f20" stroke-width="0.9"/>
<text x="310.90" y="621.80" font-size="5.9" text-anchor="middle" fill="#231f20" font-weight="normal">0</text>
<line x1="339.20" y1="610.90" x2="339.20" y2="613.90" stroke="#231f20" stroke-width="0.9"/>
<text x="339.20" y="621.80" font-size="5.9" text-anchor="middle" fill="#231f20" font-weight="normal">1</text>
<line x1="367.40" y1="610.90" x2="367.40" y2="613.90" stroke="#231f20" stroke-width="0.9"/>
<text x="367.40" y="621.80" font-size="5.9" text-anchor="middle" fill="#231f20" font-weight="normal">10</text>
<text x="339.10" y="633.90" font-size="7.0" text-anchor="middle" fill="#231f20" font-weight="normal" textLength="58.80" lengthAdjust="spacingAndGlyphs" stroke="#231f20" stroke-width="0.22">[Daratumumab], &#181;g/ml</text>
<text transform="translate(275.30,569.60) rotate(-90)" font-size="7.0" text-anchor="middle" fill="#231f20" font-weight="normal" textLength="41.20" lengthAdjust="spacingAndGlyphs" stroke="#231f20" stroke-width="0.3">Trogocytosis (%)</text>
<path d="M329.10,554.20 L329.10,552.50 L347.70,552.50 L347.70,554.20" fill="none" stroke="#3d3d3d" stroke-width="0.9"/>
<text x="338.40" y="552.20" font-size="6.2" text-anchor="middle" fill="#333" font-weight="normal">****</text>
<path d="M337.20,561.70 L337.20,560.00 L347.70,560.00 L347.70,561.70" fill="none" stroke="#3d3d3d" stroke-width="0.9"/>
<text x="342.45" y="559.40" font-size="6.2" text-anchor="middle" fill="#333" font-weight="normal">****</text>
<path d="M357.30,554.20 L357.30,552.50 L375.50,552.50 L375.50,554.20" fill="none" stroke="#3d3d3d" stroke-width="0.9"/>
<text x="366.40" y="552.20" font-size="6.2" text-anchor="middle" fill="#333" font-weight="normal">****</text>
<path d="M365.60,561.70 L365.60,560.00 L375.50,560.00 L375.50,561.70" fill="none" stroke="#3d3d3d" stroke-width="0.9"/>
<text x="370.55" y="559.40" font-size="6.2" text-anchor="middle" fill="#333" font-weight="normal">****</text>
<line x1="423.70" y1="524.80" x2="423.70" y2="611.10" stroke="#231f20" stroke-width="1.05"/>
<line x1="423.20" y1="610.60" x2="508.70" y2="610.60" stroke="#231f20" stroke-width="1.1"/>
<line x1="421.20" y1="610.60" x2="423.70" y2="610.60" stroke="#231f20" stroke-width="0.9"/>
<text x="417.40" y="612.50" font-size="5.9" text-anchor="end" fill="#231f20" font-weight="normal">0</text>
<line x1="421.20" y1="593.88" x2="423.70" y2="593.88" stroke="#231f20" stroke-width="0.9"/>
<text x="417.40" y="595.78" font-size="5.9" text-anchor="end" fill="#231f20" font-weight="normal">20</text>
<line x1="421.20" y1="577.16" x2="423.70" y2="577.16" stroke="#231f20" stroke-width="0.9"/>
<text x="417.40" y="579.06" font-size="5.9" text-anchor="end" fill="#231f20" font-weight="normal">40</text>
<line x1="421.20" y1="560.44" x2="423.70" y2="560.44" stroke="#231f20" stroke-width="0.9"/>
<text x="417.40" y="562.34" font-size="5.9" text-anchor="end" fill="#231f20" font-weight="normal">60</text>
<line x1="421.20" y1="543.72" x2="423.70" y2="543.72" stroke="#231f20" stroke-width="0.9"/>
<text x="417.40" y="545.62" font-size="5.9" text-anchor="end" fill="#231f20" font-weight="normal">80</text>
<line x1="421.20" y1="527.00" x2="423.70" y2="527.00" stroke="#231f20" stroke-width="0.9"/>
<text x="417.40" y="528.90" font-size="5.9" text-anchor="end" fill="#231f20" font-weight="normal">100</text>
<line x1="427.80" y1="601.10" x2="427.80" y2="602.90" stroke="#231f20" stroke-width="1.0"/>
<line x1="426.10" y1="601.10" x2="429.50" y2="601.10" stroke="#231f20" stroke-width="1.15"/>
<rect x="425.50" y="602.90" width="4.60" height="7.70" fill="#c8102e"/>
<line x1="434.20" y1="599.00" x2="434.20" y2="599.60" stroke="#231f20" stroke-width="1.0"/>
<line x1="432.50" y1="599.00" x2="435.90" y2="599.00" stroke="#231f20" stroke-width="1.15"/>
<rect x="431.90" y="599.60" width="4.60" height="11.00" fill="#29a8e0"/>
<line x1="440.60" y1="596.50" x2="440.60" y2="600.00" stroke="#231f20" stroke-width="1.0"/>
<line x1="438.90" y1="596.50" x2="442.30" y2="596.50" stroke="#231f20" stroke-width="1.15"/>
<rect x="438.30" y="600.00" width="4.60" height="10.60" fill="#0d6b4c"/>
<line x1="449.35" y1="601.50" x2="449.35" y2="603.30" stroke="#231f20" stroke-width="1.0"/>
<line x1="447.65" y1="601.50" x2="451.05" y2="601.50" stroke="#231f20" stroke-width="1.15"/>
<rect x="447.10" y="603.30" width="4.50" height="7.30" fill="#c8102e"/>
<line x1="455.75" y1="600.50" x2="455.75" y2="602.90" stroke="#231f20" stroke-width="1.0"/>
<line x1="454.05" y1="600.50" x2="457.45" y2="600.50" stroke="#231f20" stroke-width="1.15"/>
<rect x="453.50" y="602.90" width="4.50" height="7.70" fill="#29a8e0"/>
<line x1="462.15" y1="593.20" x2="462.15" y2="597.80" stroke="#231f20" stroke-width="1.0"/>
<line x1="460.45" y1="593.20" x2="463.85" y2="593.20" stroke="#231f20" stroke-width="1.15"/>
<rect x="459.90" y="597.80" width="4.50" height="12.80" fill="#0d6b4c"/>
<line x1="470.70" y1="602.00" x2="470.70" y2="603.80" stroke="#231f20" stroke-width="1.0"/>
<line x1="469.00" y1="602.00" x2="472.40" y2="602.00" stroke="#231f20" stroke-width="1.15"/>
<rect x="468.40" y="603.80" width="4.60" height="6.80" fill="#c8102e"/>
<line x1="477.10" y1="600.80" x2="477.10" y2="601.10" stroke="#231f20" stroke-width="1.0"/>
<line x1="475.40" y1="600.80" x2="478.80" y2="600.80" stroke="#231f20" stroke-width="1.15"/>
<rect x="474.80" y="601.10" width="4.60" height="9.50" fill="#29a8e0"/>
<line x1="483.50" y1="591.00" x2="483.50" y2="595.10" stroke="#231f20" stroke-width="1.0"/>
<line x1="481.80" y1="591.00" x2="485.20" y2="591.00" stroke="#231f20" stroke-width="1.15"/>
<rect x="481.20" y="595.10" width="4.60" height="15.50" fill="#0d6b4c"/>
<line x1="492.70" y1="599.30" x2="492.70" y2="602.40" stroke="#231f20" stroke-width="1.0"/>
<line x1="491.00" y1="599.30" x2="494.40" y2="599.30" stroke="#231f20" stroke-width="1.15"/>
<rect x="490.40" y="602.40" width="4.60" height="8.20" fill="#c8102e"/>
<line x1="498.70" y1="599.30" x2="498.70" y2="602.00" stroke="#231f20" stroke-width="1.0"/>
<line x1="497.00" y1="599.30" x2="500.40" y2="599.30" stroke="#231f20" stroke-width="1.15"/>
<rect x="496.40" y="602.00" width="4.60" height="8.60" fill="#29a8e0"/>
<line x1="505.00" y1="589.00" x2="505.00" y2="591.90" stroke="#231f20" stroke-width="1.0"/>
<line x1="503.30" y1="589.00" x2="506.70" y2="589.00" stroke="#231f20" stroke-width="1.15"/>
<rect x="502.60" y="591.90" width="4.80" height="18.70" fill="#0d6b4c"/>
<line x1="434.20" y1="610.60" x2="434.20" y2="613.60" stroke="#231f20" stroke-width="0.9"/>
<line x1="455.70" y1="610.60" x2="455.70" y2="613.60" stroke="#231f20" stroke-width="0.9"/>
<text x="455.70" y="621.00" font-size="5.9" text-anchor="middle" fill="#231f20" font-weight="normal">0</text>
<line x1="477.10" y1="610.60" x2="477.10" y2="613.60" stroke="#231f20" stroke-width="0.9"/>
<text x="477.10" y="621.00" font-size="5.9" text-anchor="middle" fill="#231f20" font-weight="normal">1</text>
<line x1="498.80" y1="610.60" x2="498.80" y2="613.60" stroke="#231f20" stroke-width="0.9"/>
<text x="498.80" y="621.00" font-size="5.9" text-anchor="middle" fill="#231f20" font-weight="normal">10</text>
<text x="434.00" y="621.00" font-size="6.9" text-anchor="middle" fill="#231f20" font-weight="normal" textLength="14.50" lengthAdjust="spacingAndGlyphs">Basal</text>
<text x="434.00" y="628.90" font-size="6.9" text-anchor="middle" fill="#231f20" font-weight="normal" textLength="14.50" lengthAdjust="spacingAndGlyphs">death</text>
<line x1="458.40" y1="625.60" x2="497.70" y2="625.60" stroke="#231f20" stroke-width="0.9"/>
<text x="477.85" y="635.30" font-size="7.0" text-anchor="middle" fill="#231f20" font-weight="normal" textLength="59.10" lengthAdjust="spacingAndGlyphs" stroke="#231f20" stroke-width="0.22">[Daratumumab], &#181;g/ml</text>
<text transform="translate(402.00,568.90) rotate(-90)" font-size="7.0" text-anchor="middle" fill="#231f20" font-weight="normal" textLength="46.70" lengthAdjust="spacingAndGlyphs" stroke="#231f20" stroke-width="0.3">Dead MM cells (%)</text>
<rect x="455.60" y="523.85" width="5.80" height="5.70" fill="#c8102e"/>
<text x="464.30" y="529.20" font-size="6.6" text-anchor="start" fill="#231f20" font-weight="normal" textLength="27.14" lengthAdjust="spacingAndGlyphs">NCI-H929</text>
<rect x="455.60" y="533.45" width="5.80" height="5.70" fill="#29a8e0"/>
<text x="464.30" y="538.80" font-size="6.6" text-anchor="start" fill="#231f20" font-weight="normal" textLength="37.32" lengthAdjust="spacingAndGlyphs">NCI-H929-EV</text>
<rect x="455.60" y="543.05" width="5.80" height="5.70" fill="#0d6b4c"/>
<text x="464.30" y="548.40" font-size="6.6" text-anchor="start" fill="#231f20" font-weight="normal" textLength="44.78" lengthAdjust="spacingAndGlyphs">NCI-H929-CD38</text>
<rect x="0.5" y="0.5" width="519" height="652" fill="none" stroke="#4a4a4a" stroke-width="1"/>
</svg>
</body></html>
